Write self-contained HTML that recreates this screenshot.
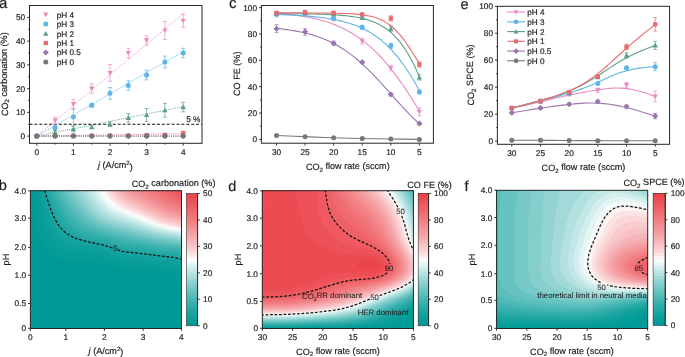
<!DOCTYPE html>
<html><head><meta charset="utf-8"><style>
html,body{margin:0;padding:0;background:#fff;}
svg{display:block;will-change:transform;}
text{text-rendering:geometricPrecision;font-family:"Liberation Sans", sans-serif;fill:#1e1e1e;stroke:#1e1e1e;stroke-width:0.18px;}
text[font-size="7.8"]{stroke-width:0.06px;}
</style></head><body>
<svg width="685" height="357" viewBox="0 0 685 357">
<line x1="36.8" y1="136.1" x2="185.03" y2="12.07" stroke="#ea8cbf" stroke-width="0.9" stroke-dasharray="1.1 1.1"/>
<line x1="36.8" y1="136.1" x2="185.03" y2="50.53" stroke="#5cb5e6" stroke-width="0.9" stroke-dasharray="1.1 1.1"/>
<line x1="36.8" y1="136.1" x2="185.03" y2="106.29" stroke="#5c9e86" stroke-width="0.9" stroke-dasharray="1.1 1.1"/>
<line x1="36.8" y1="136.1" x2="185.03" y2="133.7" stroke="#ea6a6f" stroke-width="0.9" stroke-dasharray="1.1 1.1"/>
<line x1="36.8" y1="136.1" x2="185.03" y2="136.1" stroke="#9a74ad" stroke-width="0.9" stroke-dasharray="1.1 1.1"/>
<line x1="36.8" y1="136.1" x2="185.03" y2="136.1" stroke="#777777" stroke-width="0.9" stroke-dasharray="1.1 1.1"/>
<line x1="29.5" y1="124.23" x2="202" y2="124.23" stroke="#111" stroke-width="1.1" stroke-dasharray="3 1.9"/>
<text x="200.5" y="121.8" font-size="8.3" text-anchor="end" >5 %</text>
<line x1="55.1" y1="124.23" x2="55.1" y2="117.11" stroke="#ea8cbf" stroke-width="0.7" />
<line x1="53.1" y1="124.23" x2="57.1" y2="124.23" stroke="#ea8cbf" stroke-width="0.7" />
<line x1="53.1" y1="117.11" x2="57.1" y2="117.11" stroke="#ea8cbf" stroke-width="0.7" />
<line x1="73.4" y1="108.8" x2="73.4" y2="99.3" stroke="#ea8cbf" stroke-width="0.7" />
<line x1="71.4" y1="108.8" x2="75.4" y2="108.8" stroke="#ea8cbf" stroke-width="0.7" />
<line x1="71.4" y1="99.3" x2="75.4" y2="99.3" stroke="#ea8cbf" stroke-width="0.7" />
<line x1="91.7" y1="93.37" x2="91.7" y2="83.87" stroke="#ea8cbf" stroke-width="0.7" />
<line x1="89.7" y1="93.37" x2="93.7" y2="93.37" stroke="#ea8cbf" stroke-width="0.7" />
<line x1="89.7" y1="83.87" x2="93.7" y2="83.87" stroke="#ea8cbf" stroke-width="0.7" />
<line x1="110" y1="81.26" x2="110" y2="64.64" stroke="#ea8cbf" stroke-width="0.7" />
<line x1="108" y1="81.26" x2="112" y2="81.26" stroke="#ea8cbf" stroke-width="0.7" />
<line x1="108" y1="64.64" x2="112" y2="64.64" stroke="#ea8cbf" stroke-width="0.7" />
<line x1="128.3" y1="57.76" x2="128.3" y2="48.26" stroke="#ea8cbf" stroke-width="0.7" />
<line x1="126.3" y1="57.76" x2="130.3" y2="57.76" stroke="#ea8cbf" stroke-width="0.7" />
<line x1="126.3" y1="48.26" x2="130.3" y2="48.26" stroke="#ea8cbf" stroke-width="0.7" />
<line x1="146.6" y1="45.18" x2="146.6" y2="35.68" stroke="#ea8cbf" stroke-width="0.7" />
<line x1="144.6" y1="45.18" x2="148.6" y2="45.18" stroke="#ea8cbf" stroke-width="0.7" />
<line x1="144.6" y1="35.68" x2="148.6" y2="35.68" stroke="#ea8cbf" stroke-width="0.7" />
<line x1="164.9" y1="39.48" x2="164.9" y2="21.44" stroke="#ea8cbf" stroke-width="0.7" />
<line x1="162.9" y1="39.48" x2="166.9" y2="39.48" stroke="#ea8cbf" stroke-width="0.7" />
<line x1="162.9" y1="21.44" x2="166.9" y2="21.44" stroke="#ea8cbf" stroke-width="0.7" />
<line x1="183.2" y1="27.13" x2="183.2" y2="14.31" stroke="#ea8cbf" stroke-width="0.7" />
<line x1="181.2" y1="27.13" x2="185.2" y2="27.13" stroke="#ea8cbf" stroke-width="0.7" />
<line x1="181.2" y1="14.31" x2="185.2" y2="14.31" stroke="#ea8cbf" stroke-width="0.7" />
<path d="M34.1 134.03H39.5L36.8 138.63Z" fill="#ea8cbf"/>
<path d="M52.4 118.6H57.8L55.1 123.2Z" fill="#ea8cbf"/>
<path d="M70.7 101.98H76.1L73.4 106.58Z" fill="#ea8cbf"/>
<path d="M89 86.55H94.4L91.7 91.15Z" fill="#ea8cbf"/>
<path d="M107.3 70.88H112.7L110 75.48Z" fill="#ea8cbf"/>
<path d="M125.6 50.94H131L128.3 55.54Z" fill="#ea8cbf"/>
<path d="M143.9 38.36H149.3L146.6 42.96Z" fill="#ea8cbf"/>
<path d="M162.2 28.39H167.6L164.9 32.99Z" fill="#ea8cbf"/>
<path d="M180.5 18.65H185.9L183.2 23.25Z" fill="#ea8cbf"/>
<line x1="55.1" y1="130.16" x2="55.1" y2="125.42" stroke="#5cb5e6" stroke-width="0.7" />
<line x1="53.1" y1="130.16" x2="57.1" y2="130.16" stroke="#5cb5e6" stroke-width="0.7" />
<line x1="53.1" y1="125.42" x2="57.1" y2="125.42" stroke="#5cb5e6" stroke-width="0.7" />
<line x1="73.4" y1="125.42" x2="73.4" y2="108.8" stroke="#5cb5e6" stroke-width="0.7" />
<line x1="71.4" y1="125.42" x2="75.4" y2="125.42" stroke="#5cb5e6" stroke-width="0.7" />
<line x1="71.4" y1="108.8" x2="75.4" y2="108.8" stroke="#5cb5e6" stroke-width="0.7" />
<line x1="91.7" y1="107.14" x2="91.7" y2="103.34" stroke="#5cb5e6" stroke-width="0.7" />
<line x1="89.7" y1="107.14" x2="93.7" y2="107.14" stroke="#5cb5e6" stroke-width="0.7" />
<line x1="89.7" y1="103.34" x2="93.7" y2="103.34" stroke="#5cb5e6" stroke-width="0.7" />
<line x1="110" y1="99.3" x2="110" y2="87.43" stroke="#5cb5e6" stroke-width="0.7" />
<line x1="108" y1="99.3" x2="112" y2="99.3" stroke="#5cb5e6" stroke-width="0.7" />
<line x1="108" y1="87.43" x2="112" y2="87.43" stroke="#5cb5e6" stroke-width="0.7" />
<line x1="128.3" y1="90.28" x2="128.3" y2="80.79" stroke="#5cb5e6" stroke-width="0.7" />
<line x1="126.3" y1="90.28" x2="130.3" y2="90.28" stroke="#5cb5e6" stroke-width="0.7" />
<line x1="126.3" y1="80.79" x2="130.3" y2="80.79" stroke="#5cb5e6" stroke-width="0.7" />
<line x1="146.6" y1="79.84" x2="146.6" y2="70.34" stroke="#5cb5e6" stroke-width="0.7" />
<line x1="144.6" y1="79.84" x2="148.6" y2="79.84" stroke="#5cb5e6" stroke-width="0.7" />
<line x1="144.6" y1="70.34" x2="148.6" y2="70.34" stroke="#5cb5e6" stroke-width="0.7" />
<line x1="164.9" y1="67.97" x2="164.9" y2="56.1" stroke="#5cb5e6" stroke-width="0.7" />
<line x1="162.9" y1="67.97" x2="166.9" y2="67.97" stroke="#5cb5e6" stroke-width="0.7" />
<line x1="162.9" y1="56.1" x2="166.9" y2="56.1" stroke="#5cb5e6" stroke-width="0.7" />
<line x1="183.2" y1="57.76" x2="183.2" y2="48.26" stroke="#5cb5e6" stroke-width="0.7" />
<line x1="181.2" y1="57.76" x2="185.2" y2="57.76" stroke="#5cb5e6" stroke-width="0.7" />
<line x1="181.2" y1="48.26" x2="185.2" y2="48.26" stroke="#5cb5e6" stroke-width="0.7" />
<circle cx="36.8" cy="136.1" r="2.5" fill="#5cb5e6"/>
<circle cx="55.1" cy="127.79" r="2.5" fill="#5cb5e6"/>
<circle cx="73.4" cy="117.11" r="2.5" fill="#5cb5e6"/>
<circle cx="91.7" cy="105.24" r="2.5" fill="#5cb5e6"/>
<circle cx="110" cy="93.37" r="2.5" fill="#5cb5e6"/>
<circle cx="128.3" cy="85.53" r="2.5" fill="#5cb5e6"/>
<circle cx="146.6" cy="75.09" r="2.5" fill="#5cb5e6"/>
<circle cx="164.9" cy="62.03" r="2.5" fill="#5cb5e6"/>
<circle cx="183.2" cy="53.01" r="2.5" fill="#5cb5e6"/>
<line x1="55.1" y1="134.91" x2="55.1" y2="130.16" stroke="#5c9e86" stroke-width="0.7" />
<line x1="53.1" y1="134.91" x2="57.1" y2="134.91" stroke="#5c9e86" stroke-width="0.7" />
<line x1="53.1" y1="130.16" x2="57.1" y2="130.16" stroke="#5c9e86" stroke-width="0.7" />
<line x1="73.4" y1="131.83" x2="73.4" y2="126.13" stroke="#5c9e86" stroke-width="0.7" />
<line x1="71.4" y1="131.83" x2="75.4" y2="131.83" stroke="#5c9e86" stroke-width="0.7" />
<line x1="71.4" y1="126.13" x2="75.4" y2="126.13" stroke="#5c9e86" stroke-width="0.7" />
<line x1="91.7" y1="128.5" x2="91.7" y2="125.65" stroke="#5c9e86" stroke-width="0.7" />
<line x1="89.7" y1="128.5" x2="93.7" y2="128.5" stroke="#5c9e86" stroke-width="0.7" />
<line x1="89.7" y1="125.65" x2="93.7" y2="125.65" stroke="#5c9e86" stroke-width="0.7" />
<line x1="110" y1="126.6" x2="110" y2="121.86" stroke="#5c9e86" stroke-width="0.7" />
<line x1="108" y1="126.6" x2="112" y2="126.6" stroke="#5c9e86" stroke-width="0.7" />
<line x1="108" y1="121.86" x2="112" y2="121.86" stroke="#5c9e86" stroke-width="0.7" />
<line x1="128.3" y1="122.09" x2="128.3" y2="113.55" stroke="#5c9e86" stroke-width="0.7" />
<line x1="126.3" y1="122.09" x2="130.3" y2="122.09" stroke="#5c9e86" stroke-width="0.7" />
<line x1="126.3" y1="113.55" x2="130.3" y2="113.55" stroke="#5c9e86" stroke-width="0.7" />
<line x1="146.6" y1="121.38" x2="146.6" y2="108.56" stroke="#5c9e86" stroke-width="0.7" />
<line x1="144.6" y1="121.38" x2="148.6" y2="121.38" stroke="#5c9e86" stroke-width="0.7" />
<line x1="144.6" y1="108.56" x2="148.6" y2="108.56" stroke="#5c9e86" stroke-width="0.7" />
<line x1="164.9" y1="117.11" x2="164.9" y2="103.34" stroke="#5c9e86" stroke-width="0.7" />
<line x1="162.9" y1="117.11" x2="166.9" y2="117.11" stroke="#5c9e86" stroke-width="0.7" />
<line x1="162.9" y1="103.34" x2="166.9" y2="103.34" stroke="#5c9e86" stroke-width="0.7" />
<line x1="183.2" y1="111.89" x2="183.2" y2="102.39" stroke="#5c9e86" stroke-width="0.7" />
<line x1="181.2" y1="111.89" x2="185.2" y2="111.89" stroke="#5c9e86" stroke-width="0.7" />
<line x1="181.2" y1="102.39" x2="185.2" y2="102.39" stroke="#5c9e86" stroke-width="0.7" />
<path d="M34.1 138.17H39.5L36.8 133.57Z" fill="#5c9e86"/>
<path d="M52.4 134.61H57.8L55.1 130.01Z" fill="#5c9e86"/>
<path d="M70.7 131.05H76.1L73.4 126.45Z" fill="#5c9e86"/>
<path d="M89 129.15H94.4L91.7 124.55Z" fill="#5c9e86"/>
<path d="M107.3 126.3H112.7L110 121.7Z" fill="#5c9e86"/>
<path d="M125.6 119.89H131L128.3 115.29Z" fill="#5c9e86"/>
<path d="M143.9 117.04H149.3L146.6 112.44Z" fill="#5c9e86"/>
<path d="M162.2 112.29H167.6L164.9 107.69Z" fill="#5c9e86"/>
<path d="M180.5 109.21H185.9L183.2 104.61Z" fill="#5c9e86"/>
<rect x="34.65" y="133.95" width="4.3" height="4.3" fill="#ea6a6f"/>
<rect x="52.95" y="133.83" width="4.3" height="4.3" fill="#ea6a6f"/>
<rect x="71.25" y="133.71" width="4.3" height="4.3" fill="#ea6a6f"/>
<rect x="89.55" y="133.71" width="4.3" height="4.3" fill="#ea6a6f"/>
<rect x="107.85" y="133.71" width="4.3" height="4.3" fill="#ea6a6f"/>
<rect x="126.15" y="133.48" width="4.3" height="4.3" fill="#ea6a6f"/>
<rect x="144.45" y="133" width="4.3" height="4.3" fill="#ea6a6f"/>
<rect x="162.75" y="132.76" width="4.3" height="4.3" fill="#ea6a6f"/>
<rect x="181.05" y="130.86" width="4.3" height="4.3" fill="#ea6a6f"/>
<path d="M36.8 133.1L39.8 136.1L36.8 139.1L33.8 136.1Z" fill="#9a74ad"/>
<path d="M55.1 133.1L58.1 136.1L55.1 139.1L52.1 136.1Z" fill="#9a74ad"/>
<path d="M73.4 133.1L76.4 136.1L73.4 139.1L70.4 136.1Z" fill="#9a74ad"/>
<path d="M91.7 133.1L94.7 136.1L91.7 139.1L88.7 136.1Z" fill="#9a74ad"/>
<path d="M110 133.1L113 136.1L110 139.1L107 136.1Z" fill="#9a74ad"/>
<path d="M128.3 133.1L131.3 136.1L128.3 139.1L125.3 136.1Z" fill="#9a74ad"/>
<path d="M146.6 133.1L149.6 136.1L146.6 139.1L143.6 136.1Z" fill="#9a74ad"/>
<path d="M164.9 133.1L167.9 136.1L164.9 139.1L161.9 136.1Z" fill="#9a74ad"/>
<path d="M183.2 133.1L186.2 136.1L183.2 139.1L180.2 136.1Z" fill="#9a74ad"/>
<circle cx="36.8" cy="136.1" r="2.5" fill="#777777"/>
<circle cx="55.1" cy="136.1" r="2.5" fill="#777777"/>
<circle cx="73.4" cy="136.1" r="2.5" fill="#777777"/>
<circle cx="91.7" cy="136.1" r="2.5" fill="#777777"/>
<circle cx="110" cy="136.1" r="2.5" fill="#777777"/>
<circle cx="128.3" cy="136.1" r="2.5" fill="#777777"/>
<circle cx="146.6" cy="136.1" r="2.5" fill="#777777"/>
<circle cx="164.9" cy="136.1" r="2.5" fill="#777777"/>
<circle cx="183.2" cy="136.1" r="2.5" fill="#777777"/>
<path d="M43.1 12.53H48.5L45.8 17.13Z" fill="#ea8cbf"/>
<text x="56.8" y="17.55" font-size="8.2" text-anchor="start" >pH 4</text>
<circle cx="45.8" cy="24.08" r="2.5" fill="#5cb5e6"/>
<text x="56.8" y="27.03" font-size="8.2" text-anchor="start" >pH 3</text>
<path d="M43.1 35.63H48.5L45.8 31.03Z" fill="#5c9e86"/>
<text x="56.8" y="36.51" font-size="8.2" text-anchor="start" >pH 2</text>
<rect x="43.65" y="40.89" width="4.3" height="4.3" fill="#ea6a6f"/>
<text x="56.8" y="45.99" font-size="8.2" text-anchor="start" >pH 1</text>
<path d="M45.8 49.52L48.8 52.52L45.8 55.52L42.8 52.52Z" fill="#9a74ad"/>
<text x="56.8" y="55.47" font-size="8.2" text-anchor="start" >pH 0.5</text>
<circle cx="45.8" cy="62" r="2.5" fill="#777777"/>
<text x="56.8" y="64.95" font-size="8.2" text-anchor="start" >pH 0</text>
<rect x="29.5" y="5.5" width="172.5" height="137.8" fill="none" stroke="#262626" stroke-width="1.0"/>
<line x1="27.1" y1="136.1" x2="29.5" y2="136.1" stroke="#262626" stroke-width="0.9" />
<text x="25.2" y="139.05" font-size="8.3" text-anchor="end" >0</text>
<line x1="27.1" y1="112.36" x2="29.5" y2="112.36" stroke="#262626" stroke-width="0.9" />
<text x="25.2" y="115.31" font-size="8.3" text-anchor="end" >10</text>
<line x1="27.1" y1="88.62" x2="29.5" y2="88.62" stroke="#262626" stroke-width="0.9" />
<text x="25.2" y="91.57" font-size="8.3" text-anchor="end" >20</text>
<line x1="27.1" y1="64.88" x2="29.5" y2="64.88" stroke="#262626" stroke-width="0.9" />
<text x="25.2" y="67.83" font-size="8.3" text-anchor="end" >30</text>
<line x1="27.1" y1="41.14" x2="29.5" y2="41.14" stroke="#262626" stroke-width="0.9" />
<text x="25.2" y="44.09" font-size="8.3" text-anchor="end" >40</text>
<line x1="27.1" y1="17.4" x2="29.5" y2="17.4" stroke="#262626" stroke-width="0.9" />
<text x="25.2" y="20.35" font-size="8.3" text-anchor="end" >50</text>
<line x1="28.1" y1="124.23" x2="29.5" y2="124.23" stroke="#262626" stroke-width="0.8" />
<line x1="28.1" y1="100.49" x2="29.5" y2="100.49" stroke="#262626" stroke-width="0.8" />
<line x1="28.1" y1="76.75" x2="29.5" y2="76.75" stroke="#262626" stroke-width="0.8" />
<line x1="28.1" y1="53.01" x2="29.5" y2="53.01" stroke="#262626" stroke-width="0.8" />
<line x1="28.1" y1="29.27" x2="29.5" y2="29.27" stroke="#262626" stroke-width="0.8" />
<line x1="36.8" y1="143.3" x2="36.8" y2="145.7" stroke="#262626" stroke-width="0.9" />
<text x="36.8" y="154.7" font-size="8.3" text-anchor="middle" >0</text>
<line x1="73.4" y1="143.3" x2="73.4" y2="145.7" stroke="#262626" stroke-width="0.9" />
<text x="73.4" y="154.7" font-size="8.3" text-anchor="middle" >1</text>
<line x1="110" y1="143.3" x2="110" y2="145.7" stroke="#262626" stroke-width="0.9" />
<text x="110" y="154.7" font-size="8.3" text-anchor="middle" >2</text>
<line x1="146.6" y1="143.3" x2="146.6" y2="145.7" stroke="#262626" stroke-width="0.9" />
<text x="146.6" y="154.7" font-size="8.3" text-anchor="middle" >3</text>
<line x1="183.2" y1="143.3" x2="183.2" y2="145.7" stroke="#262626" stroke-width="0.9" />
<text x="183.2" y="154.7" font-size="8.3" text-anchor="middle" >4</text>
<line x1="55.1" y1="143.3" x2="55.1" y2="144.7" stroke="#262626" stroke-width="0.8" />
<line x1="91.7" y1="143.3" x2="91.7" y2="144.7" stroke="#262626" stroke-width="0.8" />
<line x1="128.3" y1="143.3" x2="128.3" y2="144.7" stroke="#262626" stroke-width="0.8" />
<line x1="164.9" y1="143.3" x2="164.9" y2="144.7" stroke="#262626" stroke-width="0.8" />
<text x="0" y="0" font-size="9.1" text-anchor="middle" transform="translate(7.6 74.2) rotate(-90)">CO<tspan font-size="0.68em" dy="0.3em">2</tspan><tspan dy="-0.3em"> carbonation (%)</tspan></text>
<text x="115.4" y="168.2" font-size="9.1" text-anchor="middle"><tspan font-style="italic">j</tspan> (A/cm<tspan font-size="0.68em" dy="-0.45em">2</tspan><tspan dy="0.45em">)</tspan></text>
<path d="M276.5 13.1C276.98 13.14 278.41 13.26 279.36 13.34C280.31 13.42 281.26 13.51 282.22 13.6C283.17 13.69 284.12 13.79 285.07 13.89C286.03 13.99 286.98 14.09 287.93 14.2C288.88 14.3 289.84 14.41 290.79 14.53C291.74 14.64 292.7 14.76 293.65 14.89C294.6 15.01 295.55 15.14 296.51 15.28C297.46 15.42 298.41 15.56 299.36 15.7C300.32 15.85 301.27 16 302.22 16.16C303.17 16.32 304.13 16.48 305.08 16.65C306.03 16.83 306.99 17 307.94 17.19C308.89 17.37 309.84 17.57 310.8 17.77C311.75 17.97 312.7 18.17 313.65 18.39C314.61 18.61 315.56 18.83 316.51 19.06C317.46 19.3 318.42 19.54 319.37 19.79C320.32 20.04 321.28 20.3 322.23 20.58C323.18 20.85 324.13 21.13 325.09 21.42C326.04 21.71 326.99 22.02 327.94 22.33C328.9 22.65 329.85 22.97 330.8 23.31C331.75 23.65 332.71 24 333.66 24.37C334.61 24.73 335.57 25.11 336.52 25.5C337.47 25.89 338.42 26.3 339.38 26.72C340.33 27.14 341.28 27.57 342.23 28.03C343.19 28.48 344.14 28.94 345.09 29.43C346.04 29.91 347 30.41 347.95 30.93C348.9 31.45 349.86 31.98 350.81 32.54C351.76 33.09 352.71 33.66 353.67 34.25C354.62 34.84 355.57 35.45 356.52 36.09C357.48 36.72 358.43 37.37 359.38 38.04C360.33 38.71 361.29 39.41 362.24 40.12C363.19 40.84 364.15 41.57 365.1 42.33C366.05 43.09 367 43.87 367.96 44.68C368.91 45.48 369.86 46.31 370.81 47.17C371.77 48.02 372.72 48.9 373.67 49.8C374.62 50.7 375.58 51.62 376.53 52.57C377.48 53.52 378.44 54.5 379.39 55.5C380.34 56.5 381.29 57.52 382.25 58.57C383.2 59.62 384.15 60.7 385.1 61.8C386.06 62.9 387.01 64.03 387.96 65.18C388.91 66.33 389.87 67.5 390.82 68.7C391.77 69.9 392.73 71.13 393.68 72.38C394.63 73.62 395.58 74.9 396.54 76.19C397.49 77.48 398.44 78.8 399.39 80.14C400.35 81.48 401.3 82.84 402.25 84.22C403.2 85.6 404.16 87.01 405.11 88.43C406.06 89.85 407.02 91.29 407.97 92.75C408.92 94.2 409.87 95.68 410.83 97.17C411.78 98.65 412.73 100.16 413.68 101.68C414.64 103.19 415.59 104.72 416.54 106.26C417.49 107.8 418.92 110.14 419.4 110.91" fill="none" stroke="#ea8cbf" stroke-width="1.1"/>
<path d="M276.5 14.63C276.98 14.65 278.41 14.69 279.36 14.71C280.31 14.74 281.26 14.77 282.22 14.8C283.17 14.84 284.12 14.87 285.07 14.9C286.03 14.94 286.98 14.98 287.93 15.01C288.88 15.05 289.84 15.09 290.79 15.14C291.74 15.18 292.7 15.22 293.65 15.27C294.6 15.32 295.55 15.36 296.51 15.42C297.46 15.47 298.41 15.52 299.36 15.58C300.32 15.64 301.27 15.69 302.22 15.76C303.17 15.82 304.13 15.88 305.08 15.95C306.03 16.02 306.99 16.1 307.94 16.17C308.89 16.25 309.84 16.33 310.8 16.41C311.75 16.49 312.7 16.58 313.65 16.67C314.61 16.77 315.56 16.86 316.51 16.96C317.46 17.06 318.42 17.17 319.37 17.28C320.32 17.39 321.28 17.51 322.23 17.63C323.18 17.76 324.13 17.89 325.09 18.02C326.04 18.16 326.99 18.3 327.94 18.45C328.9 18.59 329.85 18.75 330.8 18.91C331.75 19.08 332.71 19.25 333.66 19.43C334.61 19.61 335.57 19.79 336.52 19.99C337.47 20.19 338.42 20.4 339.38 20.61C340.33 20.83 341.28 21.06 342.23 21.29C343.19 21.53 344.14 21.78 345.09 22.04C346.04 22.3 347 22.57 347.95 22.86C348.9 23.15 349.86 23.44 350.81 23.76C351.76 24.07 352.71 24.4 353.67 24.74C354.62 25.08 355.57 25.44 356.52 25.82C357.48 26.19 358.43 26.58 359.38 26.99C360.33 27.4 361.29 27.83 362.24 28.28C363.19 28.73 364.15 29.19 365.1 29.68C366.05 30.17 367 30.68 367.96 31.21C368.91 31.74 369.86 32.3 370.81 32.88C371.77 33.46 372.72 34.06 373.67 34.69C374.62 35.32 375.58 35.97 376.53 36.65C377.48 37.34 378.44 38.05 379.39 38.79C380.34 39.53 381.29 40.3 382.25 41.1C383.2 41.9 384.15 42.73 385.1 43.59C386.06 44.46 387.01 45.35 387.96 46.28C388.91 47.22 389.87 48.18 390.82 49.18C391.77 50.18 392.73 51.22 393.68 52.29C394.63 53.37 395.58 54.48 396.54 55.63C397.49 56.78 398.44 57.96 399.39 59.19C400.35 60.42 401.3 61.68 402.25 62.99C403.2 64.29 404.16 65.64 405.11 67.03C406.06 68.41 407.02 69.84 407.97 71.3C408.92 72.77 409.87 74.27 410.83 75.82C411.78 77.36 412.73 78.95 413.68 80.57C414.64 82.19 415.59 83.86 416.54 85.55C417.49 87.25 418.92 89.89 419.4 90.76" fill="none" stroke="#5cb5e6" stroke-width="1.1"/>
<path d="M276.5 13.64C276.98 13.64 278.41 13.65 279.36 13.65C280.31 13.65 281.26 13.66 282.22 13.66C283.17 13.67 284.12 13.67 285.07 13.68C286.03 13.68 286.98 13.69 287.93 13.69C288.88 13.7 289.84 13.7 290.79 13.71C291.74 13.72 292.7 13.72 293.65 13.73C294.6 13.74 295.55 13.75 296.51 13.76C297.46 13.77 298.41 13.78 299.36 13.79C300.32 13.8 301.27 13.81 302.22 13.82C303.17 13.83 304.13 13.84 305.08 13.86C306.03 13.87 306.99 13.89 307.94 13.9C308.89 13.92 309.84 13.94 310.8 13.95C311.75 13.97 312.7 13.99 313.65 14.01C314.61 14.03 315.56 14.06 316.51 14.08C317.46 14.1 318.42 14.13 319.37 14.16C320.32 14.18 321.28 14.21 322.23 14.25C323.18 14.28 324.13 14.31 325.09 14.35C326.04 14.39 326.99 14.43 327.94 14.47C328.9 14.51 329.85 14.55 330.8 14.6C331.75 14.65 332.71 14.7 333.66 14.76C334.61 14.82 335.57 14.88 336.52 14.94C337.47 15.01 338.42 15.07 339.38 15.15C340.33 15.22 341.28 15.3 342.23 15.39C343.19 15.47 344.14 15.56 345.09 15.66C346.04 15.76 347 15.87 347.95 15.98C348.9 16.09 349.86 16.21 350.81 16.34C351.76 16.47 352.71 16.61 353.67 16.76C354.62 16.91 355.57 17.07 356.52 17.24C357.48 17.41 358.43 17.59 359.38 17.79C360.33 17.98 361.29 18.19 362.24 18.42C363.19 18.64 364.15 18.88 365.1 19.14C366.05 19.39 367 19.67 367.96 19.96C368.91 20.26 369.86 20.57 370.81 20.91C371.77 21.25 372.72 21.6 373.67 21.99C374.62 22.37 375.58 22.78 376.53 23.22C377.48 23.66 378.44 24.13 379.39 24.63C380.34 25.13 381.29 25.66 382.25 26.23C383.2 26.8 384.15 27.4 385.1 28.05C386.06 28.69 387.01 29.38 387.96 30.11C388.91 30.84 389.87 31.61 390.82 32.44C391.77 33.27 392.73 34.14 393.68 35.07C394.63 36.01 395.58 36.99 396.54 38.04C397.49 39.08 398.44 40.18 399.39 41.36C400.35 42.53 401.3 43.76 402.25 45.07C403.2 46.38 404.16 47.75 405.11 49.2C406.06 50.65 407.02 52.17 407.97 53.77C408.92 55.38 409.87 57.06 410.83 58.82C411.78 60.58 412.73 62.42 413.68 64.35C414.64 66.27 415.59 68.28 416.54 70.37C417.49 72.46 418.92 75.8 419.4 76.89" fill="none" stroke="#5c9e86" stroke-width="1.1"/>
<path d="M276.5 12.89C276.98 12.89 278.41 12.89 279.36 12.89C280.31 12.89 281.26 12.89 282.22 12.9C283.17 12.9 284.12 12.9 285.07 12.9C286.03 12.9 286.98 12.9 287.93 12.9C288.88 12.9 289.84 12.9 290.79 12.9C291.74 12.9 292.7 12.9 293.65 12.9C294.6 12.9 295.55 12.9 296.51 12.91C297.46 12.91 298.41 12.91 299.36 12.91C300.32 12.91 301.27 12.91 302.22 12.91C303.17 12.92 304.13 12.92 305.08 12.92C306.03 12.92 306.99 12.93 307.94 12.93C308.89 12.93 309.84 12.93 310.8 12.94C311.75 12.94 312.7 12.94 313.65 12.95C314.61 12.95 315.56 12.96 316.51 12.96C317.46 12.97 318.42 12.97 319.37 12.98C320.32 12.98 321.28 12.99 322.23 13C323.18 13 324.13 13.01 325.09 13.02C326.04 13.03 326.99 13.04 327.94 13.05C328.9 13.06 329.85 13.08 330.8 13.09C331.75 13.1 332.71 13.12 333.66 13.13C334.61 13.15 335.57 13.17 336.52 13.19C337.47 13.21 338.42 13.23 339.38 13.26C340.33 13.28 341.28 13.31 342.23 13.34C343.19 13.37 344.14 13.41 345.09 13.45C346.04 13.48 347 13.53 347.95 13.57C348.9 13.62 349.86 13.67 350.81 13.73C351.76 13.78 352.71 13.85 353.67 13.92C354.62 13.99 355.57 14.06 356.52 14.15C357.48 14.23 358.43 14.33 359.38 14.43C360.33 14.53 361.29 14.65 362.24 14.77C363.19 14.9 364.15 15.04 365.1 15.19C366.05 15.35 367 15.52 367.96 15.7C368.91 15.89 369.86 16.1 370.81 16.32C371.77 16.55 372.72 16.8 373.67 17.07C374.62 17.35 375.58 17.64 376.53 17.97C377.48 18.3 378.44 18.66 379.39 19.05C380.34 19.45 381.29 19.87 382.25 20.34C383.2 20.81 384.15 21.32 385.1 21.87C386.06 22.43 387.01 23.03 387.96 23.68C388.91 24.33 389.87 25.03 390.82 25.78C391.77 26.54 392.73 27.35 393.68 28.22C394.63 29.09 395.58 30.02 396.54 31.01C397.49 32 398.44 33.05 399.39 34.15C400.35 35.26 401.3 36.43 402.25 37.65C403.2 38.88 404.16 40.16 405.11 41.49C406.06 42.81 407.02 44.19 407.97 45.61C408.92 47.02 409.87 48.48 410.83 49.95C411.78 51.43 412.73 52.94 413.68 54.45C414.64 55.95 415.59 57.49 416.54 59C417.49 60.51 418.92 62.75 419.4 63.51" fill="none" stroke="#ea6a6f" stroke-width="1.1"/>
<path d="M276.5 28.35C276.98 28.4 278.41 28.55 279.36 28.65C280.31 28.76 281.26 28.87 282.22 28.98C283.17 29.1 284.12 29.22 285.07 29.35C286.03 29.47 286.98 29.61 287.93 29.74C288.88 29.88 289.84 30.03 290.79 30.18C291.74 30.33 292.7 30.48 293.65 30.65C294.6 30.81 295.55 30.98 296.51 31.16C297.46 31.34 298.41 31.53 299.36 31.72C300.32 31.92 301.27 32.12 302.22 32.33C303.17 32.55 304.13 32.77 305.08 33C306.03 33.23 306.99 33.47 307.94 33.72C308.89 33.97 309.84 34.23 310.8 34.5C311.75 34.77 312.7 35.06 313.65 35.35C314.61 35.65 315.56 35.95 316.51 36.27C317.46 36.59 318.42 36.92 319.37 37.27C320.32 37.61 321.28 37.97 322.23 38.34C323.18 38.71 324.13 39.1 325.09 39.5C326.04 39.9 326.99 40.32 327.94 40.75C328.9 41.18 329.85 41.63 330.8 42.09C331.75 42.55 332.71 43.03 333.66 43.53C334.61 44.03 335.57 44.54 336.52 45.07C337.47 45.6 338.42 46.15 339.38 46.72C340.33 47.29 341.28 47.87 342.23 48.48C343.19 49.08 344.14 49.71 345.09 50.35C346.04 50.99 347 51.65 347.95 52.33C348.9 53.01 349.86 53.71 350.81 54.43C351.76 55.15 352.71 55.89 353.67 56.64C354.62 57.4 355.57 58.18 356.52 58.97C357.48 59.77 358.43 60.58 359.38 61.42C360.33 62.25 361.29 63.1 362.24 63.97C363.19 64.84 364.15 65.73 365.1 66.63C366.05 67.53 367 68.45 367.96 69.39C368.91 70.32 369.86 71.27 370.81 72.24C371.77 73.2 372.72 74.18 373.67 75.17C374.62 76.16 375.58 77.17 376.53 78.18C377.48 79.19 378.44 80.22 379.39 81.25C380.34 82.29 381.29 83.33 382.25 84.38C383.2 85.43 384.15 86.49 385.1 87.54C386.06 88.6 387.01 89.67 387.96 90.73C388.91 91.8 389.87 92.87 390.82 93.94C391.77 95 392.73 96.07 393.68 97.14C394.63 98.2 395.58 99.27 396.54 100.32C397.49 101.38 398.44 102.43 399.39 103.48C400.35 104.52 401.3 105.56 402.25 106.59C403.2 107.62 404.16 108.64 405.11 109.65C406.06 110.65 407.02 111.65 407.97 112.63C408.92 113.62 409.87 114.59 410.83 115.55C411.78 116.5 412.73 117.45 413.68 118.37C414.64 119.3 415.59 120.21 416.54 121.1C417.49 121.99 418.92 123.29 419.4 123.73" fill="none" stroke="#9a74ad" stroke-width="1.1"/>
<path d="M276.5 135.45C281.26 135.64 295.55 136.24 305.08 136.63C314.61 137.03 324.13 137.51 333.66 137.82C343.19 138.13 352.71 138.28 362.24 138.48C371.77 138.68 381.29 138.85 390.82 139C400.35 139.16 414.64 139.33 419.4 139.4" fill="none" stroke="#777777" stroke-width="1.1"/>
<line x1="276.5" y1="15.51" x2="276.5" y2="12.87" stroke="#ea8cbf" stroke-width="0.7" />
<line x1="274.5" y1="15.51" x2="278.5" y2="15.51" stroke="#ea8cbf" stroke-width="0.7" />
<line x1="274.5" y1="12.87" x2="278.5" y2="12.87" stroke="#ea8cbf" stroke-width="0.7" />
<path d="M273.8 12.12H279.2L276.5 16.72Z" fill="#ea8cbf"/>
<line x1="305.08" y1="15.51" x2="305.08" y2="12.87" stroke="#ea8cbf" stroke-width="0.7" />
<line x1="303.08" y1="15.51" x2="307.08" y2="15.51" stroke="#ea8cbf" stroke-width="0.7" />
<line x1="303.08" y1="12.87" x2="307.08" y2="12.87" stroke="#ea8cbf" stroke-width="0.7" />
<path d="M302.38 12.12H307.78L305.08 16.72Z" fill="#ea8cbf"/>
<line x1="333.66" y1="20.78" x2="333.66" y2="18.14" stroke="#ea8cbf" stroke-width="0.7" />
<line x1="331.66" y1="20.78" x2="335.66" y2="20.78" stroke="#ea8cbf" stroke-width="0.7" />
<line x1="331.66" y1="18.14" x2="335.66" y2="18.14" stroke="#ea8cbf" stroke-width="0.7" />
<path d="M330.96 17.39H336.36L333.66 21.99Z" fill="#ea8cbf"/>
<line x1="362.24" y1="43.84" x2="362.24" y2="38.57" stroke="#ea8cbf" stroke-width="0.7" />
<line x1="360.24" y1="43.84" x2="364.24" y2="43.84" stroke="#ea8cbf" stroke-width="0.7" />
<line x1="360.24" y1="38.57" x2="364.24" y2="38.57" stroke="#ea8cbf" stroke-width="0.7" />
<path d="M359.54 39.14H364.94L362.24 43.74Z" fill="#ea8cbf"/>
<line x1="390.82" y1="70.86" x2="390.82" y2="65.59" stroke="#ea8cbf" stroke-width="0.7" />
<line x1="388.82" y1="70.86" x2="392.82" y2="70.86" stroke="#ea8cbf" stroke-width="0.7" />
<line x1="388.82" y1="65.59" x2="392.82" y2="65.59" stroke="#ea8cbf" stroke-width="0.7" />
<path d="M388.12 66.16H393.52L390.82 70.76Z" fill="#ea8cbf"/>
<line x1="419.4" y1="115.68" x2="419.4" y2="107.77" stroke="#ea8cbf" stroke-width="0.7" />
<line x1="417.4" y1="115.68" x2="421.4" y2="115.68" stroke="#ea8cbf" stroke-width="0.7" />
<line x1="417.4" y1="107.77" x2="421.4" y2="107.77" stroke="#ea8cbf" stroke-width="0.7" />
<path d="M416.7 109.65H422.1L419.4 114.25Z" fill="#ea8cbf"/>
<line x1="276.5" y1="16.83" x2="276.5" y2="11.55" stroke="#5cb5e6" stroke-width="0.7" />
<line x1="274.5" y1="16.83" x2="278.5" y2="16.83" stroke="#5cb5e6" stroke-width="0.7" />
<line x1="274.5" y1="11.55" x2="278.5" y2="11.55" stroke="#5cb5e6" stroke-width="0.7" />
<circle cx="276.5" cy="14.19" r="2.5" fill="#5cb5e6"/>
<line x1="305.08" y1="14.85" x2="305.08" y2="12.21" stroke="#5cb5e6" stroke-width="0.7" />
<line x1="303.08" y1="14.85" x2="307.08" y2="14.85" stroke="#5cb5e6" stroke-width="0.7" />
<line x1="303.08" y1="12.21" x2="307.08" y2="12.21" stroke="#5cb5e6" stroke-width="0.7" />
<circle cx="305.08" cy="13.53" r="2.5" fill="#5cb5e6"/>
<line x1="333.66" y1="19.46" x2="333.66" y2="16.83" stroke="#5cb5e6" stroke-width="0.7" />
<line x1="331.66" y1="19.46" x2="335.66" y2="19.46" stroke="#5cb5e6" stroke-width="0.7" />
<line x1="331.66" y1="16.83" x2="335.66" y2="16.83" stroke="#5cb5e6" stroke-width="0.7" />
<circle cx="333.66" cy="18.14" r="2.5" fill="#5cb5e6"/>
<line x1="362.24" y1="29.35" x2="362.24" y2="25.39" stroke="#5cb5e6" stroke-width="0.7" />
<line x1="360.24" y1="29.35" x2="364.24" y2="29.35" stroke="#5cb5e6" stroke-width="0.7" />
<line x1="360.24" y1="25.39" x2="364.24" y2="25.39" stroke="#5cb5e6" stroke-width="0.7" />
<circle cx="362.24" cy="27.37" r="2.5" fill="#5cb5e6"/>
<line x1="390.82" y1="48.46" x2="390.82" y2="43.19" stroke="#5cb5e6" stroke-width="0.7" />
<line x1="388.82" y1="48.46" x2="392.82" y2="48.46" stroke="#5cb5e6" stroke-width="0.7" />
<line x1="388.82" y1="43.19" x2="392.82" y2="43.19" stroke="#5cb5e6" stroke-width="0.7" />
<circle cx="390.82" cy="45.82" r="2.5" fill="#5cb5e6"/>
<line x1="419.4" y1="93.93" x2="419.4" y2="89.97" stroke="#5cb5e6" stroke-width="0.7" />
<line x1="417.4" y1="93.93" x2="421.4" y2="93.93" stroke="#5cb5e6" stroke-width="0.7" />
<line x1="417.4" y1="89.97" x2="421.4" y2="89.97" stroke="#5cb5e6" stroke-width="0.7" />
<circle cx="419.4" cy="91.95" r="2.5" fill="#5cb5e6"/>
<line x1="276.5" y1="14.85" x2="276.5" y2="12.21" stroke="#5c9e86" stroke-width="0.7" />
<line x1="274.5" y1="14.85" x2="278.5" y2="14.85" stroke="#5c9e86" stroke-width="0.7" />
<line x1="274.5" y1="12.21" x2="278.5" y2="12.21" stroke="#5c9e86" stroke-width="0.7" />
<path d="M273.8 15.6H279.2L276.5 11Z" fill="#5c9e86"/>
<line x1="305.08" y1="14.19" x2="305.08" y2="11.55" stroke="#5c9e86" stroke-width="0.7" />
<line x1="303.08" y1="14.19" x2="307.08" y2="14.19" stroke="#5c9e86" stroke-width="0.7" />
<line x1="303.08" y1="11.55" x2="307.08" y2="11.55" stroke="#5c9e86" stroke-width="0.7" />
<path d="M302.38 14.94H307.78L305.08 10.34Z" fill="#5c9e86"/>
<line x1="333.66" y1="15.51" x2="333.66" y2="12.87" stroke="#5c9e86" stroke-width="0.7" />
<line x1="331.66" y1="15.51" x2="335.66" y2="15.51" stroke="#5c9e86" stroke-width="0.7" />
<line x1="331.66" y1="12.87" x2="335.66" y2="12.87" stroke="#5c9e86" stroke-width="0.7" />
<path d="M330.96 16.26H336.36L333.66 11.66Z" fill="#5c9e86"/>
<line x1="362.24" y1="19.59" x2="362.24" y2="15.64" stroke="#5c9e86" stroke-width="0.7" />
<line x1="360.24" y1="19.59" x2="364.24" y2="19.59" stroke="#5c9e86" stroke-width="0.7" />
<line x1="360.24" y1="15.64" x2="364.24" y2="15.64" stroke="#5c9e86" stroke-width="0.7" />
<path d="M359.54 19.69H364.94L362.24 15.09Z" fill="#5c9e86"/>
<line x1="390.82" y1="31.32" x2="390.82" y2="26.05" stroke="#5c9e86" stroke-width="0.7" />
<line x1="388.82" y1="31.32" x2="392.82" y2="31.32" stroke="#5c9e86" stroke-width="0.7" />
<line x1="388.82" y1="26.05" x2="392.82" y2="26.05" stroke="#5c9e86" stroke-width="0.7" />
<path d="M388.12 30.76H393.52L390.82 26.16Z" fill="#5c9e86"/>
<line x1="419.4" y1="80.09" x2="419.4" y2="74.82" stroke="#5c9e86" stroke-width="0.7" />
<line x1="417.4" y1="80.09" x2="421.4" y2="80.09" stroke="#5c9e86" stroke-width="0.7" />
<line x1="417.4" y1="74.82" x2="421.4" y2="74.82" stroke="#5c9e86" stroke-width="0.7" />
<path d="M416.7 79.52H422.1L419.4 74.92Z" fill="#5c9e86"/>
<line x1="276.5" y1="14.19" x2="276.5" y2="11.55" stroke="#ea6a6f" stroke-width="0.7" />
<line x1="274.5" y1="14.19" x2="278.5" y2="14.19" stroke="#ea6a6f" stroke-width="0.7" />
<line x1="274.5" y1="11.55" x2="278.5" y2="11.55" stroke="#ea6a6f" stroke-width="0.7" />
<rect x="274.35" y="10.72" width="4.3" height="4.3" fill="#ea6a6f"/>
<line x1="305.08" y1="14.19" x2="305.08" y2="10.24" stroke="#ea6a6f" stroke-width="0.7" />
<line x1="303.08" y1="14.19" x2="307.08" y2="14.19" stroke="#ea6a6f" stroke-width="0.7" />
<line x1="303.08" y1="10.24" x2="307.08" y2="10.24" stroke="#ea6a6f" stroke-width="0.7" />
<rect x="302.93" y="10.06" width="4.3" height="4.3" fill="#ea6a6f"/>
<line x1="333.66" y1="14.19" x2="333.66" y2="11.55" stroke="#ea6a6f" stroke-width="0.7" />
<line x1="331.66" y1="14.19" x2="335.66" y2="14.19" stroke="#ea6a6f" stroke-width="0.7" />
<line x1="331.66" y1="11.55" x2="335.66" y2="11.55" stroke="#ea6a6f" stroke-width="0.7" />
<rect x="331.51" y="10.72" width="4.3" height="4.3" fill="#ea6a6f"/>
<line x1="362.24" y1="16.56" x2="362.24" y2="12.61" stroke="#ea6a6f" stroke-width="0.7" />
<line x1="360.24" y1="16.56" x2="364.24" y2="16.56" stroke="#ea6a6f" stroke-width="0.7" />
<line x1="360.24" y1="12.61" x2="364.24" y2="12.61" stroke="#ea6a6f" stroke-width="0.7" />
<rect x="360.09" y="12.44" width="4.3" height="4.3" fill="#ea6a6f"/>
<line x1="390.82" y1="21.04" x2="390.82" y2="15.77" stroke="#ea6a6f" stroke-width="0.7" />
<line x1="388.82" y1="21.04" x2="392.82" y2="21.04" stroke="#ea6a6f" stroke-width="0.7" />
<line x1="388.82" y1="15.77" x2="392.82" y2="15.77" stroke="#ea6a6f" stroke-width="0.7" />
<rect x="388.67" y="16.26" width="4.3" height="4.3" fill="#ea6a6f"/>
<line x1="419.4" y1="67.17" x2="419.4" y2="61.9" stroke="#ea6a6f" stroke-width="0.7" />
<line x1="417.4" y1="67.17" x2="421.4" y2="67.17" stroke="#ea6a6f" stroke-width="0.7" />
<line x1="417.4" y1="61.9" x2="421.4" y2="61.9" stroke="#ea6a6f" stroke-width="0.7" />
<rect x="417.25" y="62.39" width="4.3" height="4.3" fill="#ea6a6f"/>
<line x1="276.5" y1="32.64" x2="276.5" y2="24.73" stroke="#9a74ad" stroke-width="0.7" />
<line x1="274.5" y1="32.64" x2="278.5" y2="32.64" stroke="#9a74ad" stroke-width="0.7" />
<line x1="274.5" y1="24.73" x2="278.5" y2="24.73" stroke="#9a74ad" stroke-width="0.7" />
<path d="M276.5 25.69L279.5 28.69L276.5 31.69L273.5 28.69Z" fill="#9a74ad"/>
<line x1="305.08" y1="35.15" x2="305.08" y2="28.56" stroke="#9a74ad" stroke-width="0.7" />
<line x1="303.08" y1="35.15" x2="307.08" y2="35.15" stroke="#9a74ad" stroke-width="0.7" />
<line x1="303.08" y1="28.56" x2="307.08" y2="28.56" stroke="#9a74ad" stroke-width="0.7" />
<path d="M305.08 28.85L308.08 31.85L305.08 34.85L302.08 31.85Z" fill="#9a74ad"/>
<line x1="333.66" y1="45.16" x2="333.66" y2="41.21" stroke="#9a74ad" stroke-width="0.7" />
<line x1="331.66" y1="45.16" x2="335.66" y2="45.16" stroke="#9a74ad" stroke-width="0.7" />
<line x1="331.66" y1="41.21" x2="335.66" y2="41.21" stroke="#9a74ad" stroke-width="0.7" />
<path d="M333.66 40.19L336.66 43.19L333.66 46.19L330.66 43.19Z" fill="#9a74ad"/>
<line x1="362.24" y1="63.62" x2="362.24" y2="60.98" stroke="#9a74ad" stroke-width="0.7" />
<line x1="360.24" y1="63.62" x2="364.24" y2="63.62" stroke="#9a74ad" stroke-width="0.7" />
<line x1="360.24" y1="60.98" x2="364.24" y2="60.98" stroke="#9a74ad" stroke-width="0.7" />
<path d="M362.24 59.3L365.24 62.3L362.24 65.3L359.24 62.3Z" fill="#9a74ad"/>
<line x1="390.82" y1="95.91" x2="390.82" y2="93.27" stroke="#9a74ad" stroke-width="0.7" />
<line x1="388.82" y1="95.91" x2="392.82" y2="95.91" stroke="#9a74ad" stroke-width="0.7" />
<line x1="388.82" y1="93.27" x2="392.82" y2="93.27" stroke="#9a74ad" stroke-width="0.7" />
<path d="M390.82 91.59L393.82 94.59L390.82 97.59L387.82 94.59Z" fill="#9a74ad"/>
<line x1="419.4" y1="124.9" x2="419.4" y2="122.27" stroke="#9a74ad" stroke-width="0.7" />
<line x1="417.4" y1="124.9" x2="421.4" y2="124.9" stroke="#9a74ad" stroke-width="0.7" />
<line x1="417.4" y1="122.27" x2="421.4" y2="122.27" stroke="#9a74ad" stroke-width="0.7" />
<path d="M419.4 120.58L422.4 123.58L419.4 126.58L416.4 123.58Z" fill="#9a74ad"/>
<circle cx="276.5" cy="135.45" r="2.5" fill="#777777"/>
<circle cx="305.08" cy="136.63" r="2.5" fill="#777777"/>
<circle cx="333.66" cy="137.82" r="2.5" fill="#777777"/>
<circle cx="362.24" cy="138.48" r="2.5" fill="#777777"/>
<circle cx="390.82" cy="139" r="2.5" fill="#777777"/>
<circle cx="419.4" cy="139.4" r="2.5" fill="#777777"/>
<rect x="261.4" y="5.5" width="172" height="137.7" fill="none" stroke="#262626" stroke-width="1.0"/>
<line x1="259" y1="139.4" x2="261.4" y2="139.4" stroke="#262626" stroke-width="0.9" />
<text x="257.1" y="142.35" font-size="8.3" text-anchor="end" >0</text>
<line x1="259" y1="113.04" x2="261.4" y2="113.04" stroke="#262626" stroke-width="0.9" />
<text x="257.1" y="115.99" font-size="8.3" text-anchor="end" >20</text>
<line x1="259" y1="86.68" x2="261.4" y2="86.68" stroke="#262626" stroke-width="0.9" />
<text x="257.1" y="89.63" font-size="8.3" text-anchor="end" >40</text>
<line x1="259" y1="60.32" x2="261.4" y2="60.32" stroke="#262626" stroke-width="0.9" />
<text x="257.1" y="63.27" font-size="8.3" text-anchor="end" >60</text>
<line x1="259" y1="33.96" x2="261.4" y2="33.96" stroke="#262626" stroke-width="0.9" />
<text x="257.1" y="36.91" font-size="8.3" text-anchor="end" >80</text>
<line x1="259" y1="7.6" x2="261.4" y2="7.6" stroke="#262626" stroke-width="0.9" />
<text x="257.1" y="10.55" font-size="8.3" text-anchor="end" >100</text>
<line x1="260" y1="126.22" x2="261.4" y2="126.22" stroke="#262626" stroke-width="0.8" />
<line x1="260" y1="99.86" x2="261.4" y2="99.86" stroke="#262626" stroke-width="0.8" />
<line x1="260" y1="73.5" x2="261.4" y2="73.5" stroke="#262626" stroke-width="0.8" />
<line x1="260" y1="47.14" x2="261.4" y2="47.14" stroke="#262626" stroke-width="0.8" />
<line x1="260" y1="20.78" x2="261.4" y2="20.78" stroke="#262626" stroke-width="0.8" />
<line x1="276.5" y1="143.2" x2="276.5" y2="145.6" stroke="#262626" stroke-width="0.9" />
<text x="276.5" y="154.6" font-size="8.3" text-anchor="middle" >30</text>
<line x1="305.08" y1="143.2" x2="305.08" y2="145.6" stroke="#262626" stroke-width="0.9" />
<text x="305.08" y="154.6" font-size="8.3" text-anchor="middle" >25</text>
<line x1="333.66" y1="143.2" x2="333.66" y2="145.6" stroke="#262626" stroke-width="0.9" />
<text x="333.66" y="154.6" font-size="8.3" text-anchor="middle" >20</text>
<line x1="362.24" y1="143.2" x2="362.24" y2="145.6" stroke="#262626" stroke-width="0.9" />
<text x="362.24" y="154.6" font-size="8.3" text-anchor="middle" >15</text>
<line x1="390.82" y1="143.2" x2="390.82" y2="145.6" stroke="#262626" stroke-width="0.9" />
<text x="390.82" y="154.6" font-size="8.3" text-anchor="middle" >10</text>
<line x1="419.4" y1="143.2" x2="419.4" y2="145.6" stroke="#262626" stroke-width="0.9" />
<text x="419.4" y="154.6" font-size="8.3" text-anchor="middle" >5</text>
<text x="0" y="0" font-size="9.1" text-anchor="middle" transform="translate(240 73.8) rotate(-90)">CO FE (%)</text>
<text x="347.8" y="169.8" font-size="9.1" text-anchor="middle">CO<tspan font-size="0.68em" dy="0.3em">2</tspan><tspan dy="-0.3em"> flow rate (sccm)</tspan></text>
<path d="M511.8 108.34C513.16 108.04 517.39 107.1 519.99 106.52C522.58 105.93 525.04 105.38 527.38 104.84C529.73 104.3 531.94 103.79 534.06 103.3C536.18 102.8 538.18 102.33 540.1 101.88C542.01 101.43 543.82 101 545.56 100.59C547.3 100.17 548.94 99.78 550.52 99.4C552.1 99.03 553.6 98.67 555.05 98.33C556.5 97.98 557.88 97.66 559.22 97.34C560.56 97.03 561.84 96.73 563.1 96.45C564.36 96.16 565.57 95.89 566.77 95.63C567.97 95.37 569.13 95.12 570.29 94.88C571.44 94.64 572.57 94.41 573.69 94.19C574.81 93.97 575.91 93.76 577.01 93.55C578.1 93.35 579.19 93.15 580.27 92.95C581.35 92.76 582.42 92.57 583.5 92.38C584.58 92.2 585.65 92.01 586.73 91.83C587.81 91.65 588.9 91.47 589.99 91.29C591.09 91.11 592.19 90.93 593.31 90.75C594.43 90.56 595.56 90.38 596.71 90.19C597.87 90 599.03 89.81 600.23 89.62C601.43 89.42 602.64 89.21 603.9 89.03C605.16 88.84 606.44 88.65 607.78 88.49C609.12 88.34 610.5 88.19 611.95 88.1C613.4 88 614.9 87.93 616.48 87.93C618.06 87.93 619.7 87.97 621.44 88.08C623.18 88.2 624.99 88.37 626.9 88.64C628.82 88.9 630.82 89.24 632.94 89.68C635.06 90.12 637.27 90.65 639.62 91.3C641.96 91.95 644.42 92.7 647.01 93.58C649.61 94.47 653.84 96.11 655.2 96.62" fill="none" stroke="#ea8cbf" stroke-width="1.1"/>
<path d="M511.8 107.94C513.16 107.61 517.39 106.6 519.99 105.97C522.58 105.34 525.04 104.74 527.38 104.16C529.73 103.59 531.94 103.04 534.06 102.51C536.18 101.98 538.18 101.48 540.1 100.99C542.01 100.51 543.82 100.04 545.56 99.59C547.3 99.14 548.94 98.71 550.52 98.29C552.1 97.87 553.6 97.46 555.05 97.07C556.5 96.67 557.88 96.29 559.22 95.91C560.56 95.53 561.84 95.16 563.1 94.8C564.36 94.43 565.57 94.08 566.77 93.72C567.97 93.36 569.13 93.01 570.29 92.65C571.44 92.29 572.57 91.94 573.69 91.58C574.81 91.22 575.91 90.86 577.01 90.49C578.1 90.13 579.19 89.76 580.27 89.38C581.35 88.99 582.42 88.61 583.5 88.21C584.58 87.81 585.65 87.41 586.73 86.99C587.81 86.57 588.9 86.14 589.99 85.69C591.09 85.25 592.19 84.79 593.31 84.31C594.43 83.83 595.56 83.34 596.71 82.82C597.87 82.3 599.03 81.77 600.23 81.22C601.43 80.66 602.64 80.08 603.9 79.49C605.16 78.9 606.44 78.29 607.78 77.69C609.12 77.08 610.5 76.46 611.95 75.85C613.4 75.25 614.9 74.64 616.48 74.05C618.06 73.46 619.7 72.88 621.44 72.32C623.18 71.77 624.99 71.23 626.9 70.73C628.82 70.22 630.82 69.74 632.94 69.31C635.06 68.88 637.27 68.48 639.62 68.13C641.96 67.79 644.42 67.48 647.01 67.24C649.61 67 653.84 66.78 655.2 66.69" fill="none" stroke="#5cb5e6" stroke-width="1.1"/>
<path d="M511.8 107.94C513.16 107.61 517.39 106.59 519.99 105.95C522.58 105.31 525.04 104.69 527.38 104.09C529.73 103.49 531.94 102.91 534.06 102.35C536.18 101.78 538.18 101.24 540.1 100.7C542.01 100.17 543.82 99.65 545.56 99.14C547.3 98.63 548.94 98.14 550.52 97.64C552.1 97.15 553.6 96.67 555.05 96.19C556.5 95.71 557.88 95.24 559.22 94.77C560.56 94.3 561.84 93.84 563.1 93.37C564.36 92.9 565.57 92.43 566.77 91.95C567.97 91.48 569.13 91.01 570.29 90.52C571.44 90.04 572.57 89.55 573.69 89.05C574.81 88.56 575.91 88.05 577.01 87.54C578.1 87.02 579.19 86.49 580.27 85.95C581.35 85.41 582.42 84.85 583.5 84.28C584.58 83.71 585.65 83.12 586.73 82.52C587.81 81.91 588.9 81.29 589.99 80.64C591.09 79.99 592.19 79.33 593.31 78.64C594.43 77.94 595.56 77.23 596.71 76.49C597.87 75.75 599.03 74.98 600.23 74.18C601.43 73.39 602.64 72.56 603.9 71.71C605.16 70.86 606.44 69.98 607.78 69.09C609.12 68.19 610.5 67.27 611.95 66.34C613.4 65.4 614.9 64.45 616.48 63.48C618.06 62.51 619.7 61.53 621.44 60.54C623.18 59.55 624.99 58.55 626.9 57.54C628.82 56.54 630.82 55.52 632.94 54.5C635.06 53.49 637.27 52.47 639.62 51.45C641.96 50.44 644.42 49.42 647.01 48.41C649.61 47.4 653.84 45.89 655.2 45.39" fill="none" stroke="#5c9e86" stroke-width="1.1"/>
<path d="M511.8 107.94C513.16 107.61 517.39 106.59 519.99 105.95C522.58 105.31 525.04 104.69 527.38 104.09C529.73 103.49 531.94 102.91 534.06 102.35C536.18 101.78 538.18 101.23 540.1 100.7C542.01 100.16 543.82 99.64 545.56 99.13C547.3 98.62 548.94 98.12 550.52 97.62C552.1 97.12 553.6 96.64 555.05 96.15C556.5 95.67 557.88 95.19 559.22 94.72C560.56 94.24 561.84 93.76 563.1 93.28C564.36 92.8 565.57 92.33 566.77 91.84C567.97 91.36 569.13 90.87 570.29 90.37C571.44 89.87 572.57 89.37 573.69 88.85C574.81 88.33 575.91 87.8 577.01 87.25C578.1 86.69 579.19 86.13 580.27 85.54C581.35 84.95 582.42 84.34 583.5 83.7C584.58 83.07 585.65 82.41 586.73 81.71C587.81 81.02 588.9 80.3 589.99 79.54C591.09 78.79 592.19 78 593.31 77.17C594.43 76.34 595.56 75.47 596.71 74.56C597.87 73.65 599.03 72.7 600.23 71.7C601.43 70.7 602.64 69.66 603.9 68.56C605.16 67.46 606.44 66.31 607.78 65.11C609.12 63.91 610.5 62.66 611.95 61.35C613.4 60.03 614.9 58.67 616.48 57.24C618.06 55.81 619.7 54.33 621.44 52.78C623.18 51.22 624.99 49.61 626.9 47.93C628.82 46.25 630.82 44.5 632.94 42.69C635.06 40.87 637.27 38.98 639.62 37.02C641.96 35.06 644.42 33.03 647.01 30.92C649.61 28.81 653.84 25.46 655.2 24.36" fill="none" stroke="#ea6a6f" stroke-width="1.1"/>
<path d="M511.8 112.79C513.16 112.56 517.39 111.85 519.99 111.42C522.58 110.99 525.04 110.59 527.38 110.22C529.73 109.84 531.94 109.49 534.06 109.16C536.18 108.83 538.18 108.52 540.1 108.24C542.01 107.95 543.82 107.68 545.56 107.43C547.3 107.18 548.94 106.95 550.52 106.73C552.1 106.51 553.6 106.31 555.05 106.12C556.5 105.93 557.88 105.75 559.22 105.59C560.56 105.42 561.84 105.26 563.1 105.11C564.36 104.96 565.57 104.82 566.77 104.68C567.97 104.54 569.13 104.41 570.29 104.29C571.44 104.16 572.57 104.04 573.69 103.93C574.81 103.82 575.91 103.71 577.01 103.62C578.1 103.52 579.19 103.44 580.27 103.36C581.35 103.28 582.42 103.21 583.5 103.16C584.58 103.1 585.65 103.06 586.73 103.02C587.81 102.99 588.9 102.97 589.99 102.96C591.09 102.95 592.19 102.96 593.31 102.98C594.43 103 595.56 103.03 596.71 103.08C597.87 103.13 599.03 103.19 600.23 103.28C601.43 103.36 602.64 103.46 603.9 103.58C605.16 103.7 606.44 103.84 607.78 104.01C609.12 104.18 610.5 104.38 611.95 104.61C613.4 104.84 614.9 105.1 616.48 105.4C618.06 105.7 619.7 106.04 621.44 106.42C623.18 106.8 624.99 107.22 626.9 107.7C628.82 108.17 630.82 108.69 632.94 109.27C635.06 109.84 637.27 110.47 639.62 111.16C641.96 111.85 644.42 112.59 647.01 113.4C649.61 114.21 653.84 115.59 655.2 116.03" fill="none" stroke="#9a74ad" stroke-width="1.1"/>
<path d="M511.8 140.16C513.16 140.16 517.39 140.18 519.99 140.2C522.58 140.21 525.04 140.22 527.38 140.24C529.73 140.25 531.94 140.26 534.06 140.28C536.18 140.29 538.18 140.3 540.1 140.32C542.01 140.33 543.82 140.34 545.56 140.35C547.3 140.37 548.94 140.38 550.52 140.39C552.1 140.4 553.6 140.41 555.05 140.42C556.5 140.44 557.88 140.45 559.22 140.46C560.56 140.47 561.84 140.48 563.1 140.49C564.36 140.5 565.57 140.51 566.77 140.52C567.97 140.52 569.13 140.53 570.29 140.54C571.44 140.55 572.57 140.56 573.69 140.56C574.81 140.57 575.91 140.58 577.01 140.59C578.1 140.59 579.19 140.6 580.27 140.6C581.35 140.61 582.42 140.61 583.5 140.62C584.58 140.62 585.65 140.63 586.73 140.63C587.81 140.64 588.9 140.64 589.99 140.65C591.09 140.65 592.19 140.65 593.31 140.66C594.43 140.66 595.56 140.66 596.71 140.67C597.87 140.67 599.03 140.67 600.23 140.67C601.43 140.68 602.64 140.68 603.9 140.68C605.16 140.68 606.44 140.68 607.78 140.69C609.12 140.69 610.5 140.69 611.95 140.69C613.4 140.69 614.9 140.7 616.48 140.7C618.06 140.7 619.7 140.71 621.44 140.71C623.18 140.71 624.99 140.72 626.9 140.72C628.82 140.73 630.82 140.73 632.94 140.74C635.06 140.75 637.27 140.76 639.62 140.76C641.96 140.77 644.42 140.78 647.01 140.79C649.61 140.8 653.84 140.82 655.2 140.83" fill="none" stroke="#777777" stroke-width="1.1"/>
<line x1="511.8" y1="109.69" x2="511.8" y2="107" stroke="#ea8cbf" stroke-width="0.7" />
<line x1="509.8" y1="109.69" x2="513.8" y2="109.69" stroke="#ea8cbf" stroke-width="0.7" />
<line x1="509.8" y1="107" x2="513.8" y2="107" stroke="#ea8cbf" stroke-width="0.7" />
<path d="M509.1 106.27H514.5L511.8 110.87Z" fill="#ea8cbf"/>
<line x1="540.48" y1="103.36" x2="540.48" y2="100.66" stroke="#ea8cbf" stroke-width="0.7" />
<line x1="538.48" y1="103.36" x2="542.48" y2="103.36" stroke="#ea8cbf" stroke-width="0.7" />
<line x1="538.48" y1="100.66" x2="542.48" y2="100.66" stroke="#ea8cbf" stroke-width="0.7" />
<path d="M537.78 99.94H543.18L540.48 104.54Z" fill="#ea8cbf"/>
<line x1="569.16" y1="95.81" x2="569.16" y2="93.11" stroke="#ea8cbf" stroke-width="0.7" />
<line x1="567.16" y1="95.81" x2="571.16" y2="95.81" stroke="#ea8cbf" stroke-width="0.7" />
<line x1="567.16" y1="93.11" x2="571.16" y2="93.11" stroke="#ea8cbf" stroke-width="0.7" />
<path d="M566.46 92.39H571.86L569.16 96.99Z" fill="#ea8cbf"/>
<line x1="597.84" y1="92.17" x2="597.84" y2="88.12" stroke="#ea8cbf" stroke-width="0.7" />
<line x1="595.84" y1="92.17" x2="599.84" y2="92.17" stroke="#ea8cbf" stroke-width="0.7" />
<line x1="595.84" y1="88.12" x2="599.84" y2="88.12" stroke="#ea8cbf" stroke-width="0.7" />
<path d="M595.14 88.08H600.54L597.84 92.68Z" fill="#ea8cbf"/>
<line x1="626.52" y1="87.85" x2="626.52" y2="82.46" stroke="#ea8cbf" stroke-width="0.7" />
<line x1="624.52" y1="87.85" x2="628.52" y2="87.85" stroke="#ea8cbf" stroke-width="0.7" />
<line x1="624.52" y1="82.46" x2="628.52" y2="82.46" stroke="#ea8cbf" stroke-width="0.7" />
<path d="M623.82 83.09H629.22L626.52 87.69Z" fill="#ea8cbf"/>
<line x1="655.2" y1="102.01" x2="655.2" y2="91.22" stroke="#ea8cbf" stroke-width="0.7" />
<line x1="653.2" y1="102.01" x2="657.2" y2="102.01" stroke="#ea8cbf" stroke-width="0.7" />
<line x1="653.2" y1="91.22" x2="657.2" y2="91.22" stroke="#ea8cbf" stroke-width="0.7" />
<path d="M652.5 94.55H657.9L655.2 99.15Z" fill="#ea8cbf"/>
<line x1="511.8" y1="109.29" x2="511.8" y2="106.59" stroke="#5cb5e6" stroke-width="0.7" />
<line x1="509.8" y1="109.29" x2="513.8" y2="109.29" stroke="#5cb5e6" stroke-width="0.7" />
<line x1="509.8" y1="106.59" x2="513.8" y2="106.59" stroke="#5cb5e6" stroke-width="0.7" />
<circle cx="511.8" cy="107.94" r="2.5" fill="#5cb5e6"/>
<line x1="540.48" y1="102.41" x2="540.48" y2="99.72" stroke="#5cb5e6" stroke-width="0.7" />
<line x1="538.48" y1="102.41" x2="542.48" y2="102.41" stroke="#5cb5e6" stroke-width="0.7" />
<line x1="538.48" y1="99.72" x2="542.48" y2="99.72" stroke="#5cb5e6" stroke-width="0.7" />
<circle cx="540.48" cy="101.06" r="2.5" fill="#5cb5e6"/>
<line x1="569.16" y1="94.86" x2="569.16" y2="92.17" stroke="#5cb5e6" stroke-width="0.7" />
<line x1="567.16" y1="94.86" x2="571.16" y2="94.86" stroke="#5cb5e6" stroke-width="0.7" />
<line x1="567.16" y1="92.17" x2="571.16" y2="92.17" stroke="#5cb5e6" stroke-width="0.7" />
<circle cx="569.16" cy="93.52" r="2.5" fill="#5cb5e6"/>
<line x1="597.84" y1="84.75" x2="597.84" y2="82.06" stroke="#5cb5e6" stroke-width="0.7" />
<line x1="595.84" y1="84.75" x2="599.84" y2="84.75" stroke="#5cb5e6" stroke-width="0.7" />
<line x1="595.84" y1="82.06" x2="599.84" y2="82.06" stroke="#5cb5e6" stroke-width="0.7" />
<circle cx="597.84" cy="83.41" r="2.5" fill="#5cb5e6"/>
<line x1="626.52" y1="69.93" x2="626.52" y2="65.88" stroke="#5cb5e6" stroke-width="0.7" />
<line x1="624.52" y1="69.93" x2="628.52" y2="69.93" stroke="#5cb5e6" stroke-width="0.7" />
<line x1="624.52" y1="65.88" x2="628.52" y2="65.88" stroke="#5cb5e6" stroke-width="0.7" />
<circle cx="626.52" cy="67.9" r="2.5" fill="#5cb5e6"/>
<line x1="655.2" y1="70.73" x2="655.2" y2="62.65" stroke="#5cb5e6" stroke-width="0.7" />
<line x1="653.2" y1="70.73" x2="657.2" y2="70.73" stroke="#5cb5e6" stroke-width="0.7" />
<line x1="653.2" y1="62.65" x2="657.2" y2="62.65" stroke="#5cb5e6" stroke-width="0.7" />
<circle cx="655.2" cy="66.69" r="2.5" fill="#5cb5e6"/>
<line x1="511.8" y1="109.29" x2="511.8" y2="106.59" stroke="#5c9e86" stroke-width="0.7" />
<line x1="509.8" y1="109.29" x2="513.8" y2="109.29" stroke="#5c9e86" stroke-width="0.7" />
<line x1="509.8" y1="106.59" x2="513.8" y2="106.59" stroke="#5c9e86" stroke-width="0.7" />
<path d="M509.1 110.01H514.5L511.8 105.41Z" fill="#5c9e86"/>
<line x1="540.48" y1="102.41" x2="540.48" y2="99.72" stroke="#5c9e86" stroke-width="0.7" />
<line x1="538.48" y1="102.41" x2="542.48" y2="102.41" stroke="#5c9e86" stroke-width="0.7" />
<line x1="538.48" y1="99.72" x2="542.48" y2="99.72" stroke="#5c9e86" stroke-width="0.7" />
<path d="M537.78 103.13H543.18L540.48 98.53Z" fill="#5c9e86"/>
<line x1="569.16" y1="93.65" x2="569.16" y2="90.95" stroke="#5c9e86" stroke-width="0.7" />
<line x1="567.16" y1="93.65" x2="571.16" y2="93.65" stroke="#5c9e86" stroke-width="0.7" />
<line x1="567.16" y1="90.95" x2="571.16" y2="90.95" stroke="#5c9e86" stroke-width="0.7" />
<path d="M566.46 94.37H571.86L569.16 89.77Z" fill="#5c9e86"/>
<line x1="597.84" y1="78.42" x2="597.84" y2="75.72" stroke="#5c9e86" stroke-width="0.7" />
<line x1="595.84" y1="78.42" x2="599.84" y2="78.42" stroke="#5c9e86" stroke-width="0.7" />
<line x1="595.84" y1="75.72" x2="599.84" y2="75.72" stroke="#5c9e86" stroke-width="0.7" />
<path d="M595.14 79.14H600.54L597.84 74.54Z" fill="#5c9e86"/>
<line x1="626.52" y1="58.06" x2="626.52" y2="52.67" stroke="#5c9e86" stroke-width="0.7" />
<line x1="624.52" y1="58.06" x2="628.52" y2="58.06" stroke="#5c9e86" stroke-width="0.7" />
<line x1="624.52" y1="52.67" x2="628.52" y2="52.67" stroke="#5c9e86" stroke-width="0.7" />
<path d="M623.82 57.44H629.22L626.52 52.84Z" fill="#5c9e86"/>
<line x1="655.2" y1="49.44" x2="655.2" y2="41.35" stroke="#5c9e86" stroke-width="0.7" />
<line x1="653.2" y1="49.44" x2="657.2" y2="49.44" stroke="#5c9e86" stroke-width="0.7" />
<line x1="653.2" y1="41.35" x2="657.2" y2="41.35" stroke="#5c9e86" stroke-width="0.7" />
<path d="M652.5 47.46H657.9L655.2 42.86Z" fill="#5c9e86"/>
<line x1="511.8" y1="109.29" x2="511.8" y2="106.59" stroke="#ea6a6f" stroke-width="0.7" />
<line x1="509.8" y1="109.29" x2="513.8" y2="109.29" stroke="#ea6a6f" stroke-width="0.7" />
<line x1="509.8" y1="106.59" x2="513.8" y2="106.59" stroke="#ea6a6f" stroke-width="0.7" />
<rect x="509.65" y="105.79" width="4.3" height="4.3" fill="#ea6a6f"/>
<line x1="540.48" y1="102.41" x2="540.48" y2="99.72" stroke="#ea6a6f" stroke-width="0.7" />
<line x1="538.48" y1="102.41" x2="542.48" y2="102.41" stroke="#ea6a6f" stroke-width="0.7" />
<line x1="538.48" y1="99.72" x2="542.48" y2="99.72" stroke="#ea6a6f" stroke-width="0.7" />
<rect x="538.33" y="98.91" width="4.3" height="4.3" fill="#ea6a6f"/>
<line x1="569.16" y1="93.65" x2="569.16" y2="90.95" stroke="#ea6a6f" stroke-width="0.7" />
<line x1="567.16" y1="93.65" x2="571.16" y2="93.65" stroke="#ea6a6f" stroke-width="0.7" />
<line x1="567.16" y1="90.95" x2="571.16" y2="90.95" stroke="#ea6a6f" stroke-width="0.7" />
<rect x="567.01" y="90.15" width="4.3" height="4.3" fill="#ea6a6f"/>
<line x1="597.84" y1="77.74" x2="597.84" y2="75.05" stroke="#ea6a6f" stroke-width="0.7" />
<line x1="595.84" y1="77.74" x2="599.84" y2="77.74" stroke="#ea6a6f" stroke-width="0.7" />
<line x1="595.84" y1="75.05" x2="599.84" y2="75.05" stroke="#ea6a6f" stroke-width="0.7" />
<rect x="595.69" y="74.25" width="4.3" height="4.3" fill="#ea6a6f"/>
<line x1="626.52" y1="49.71" x2="626.52" y2="44.31" stroke="#ea6a6f" stroke-width="0.7" />
<line x1="624.52" y1="49.71" x2="628.52" y2="49.71" stroke="#ea6a6f" stroke-width="0.7" />
<line x1="624.52" y1="44.31" x2="628.52" y2="44.31" stroke="#ea6a6f" stroke-width="0.7" />
<rect x="624.37" y="44.86" width="4.3" height="4.3" fill="#ea6a6f"/>
<line x1="655.2" y1="31.1" x2="655.2" y2="17.62" stroke="#ea6a6f" stroke-width="0.7" />
<line x1="653.2" y1="31.1" x2="657.2" y2="31.1" stroke="#ea6a6f" stroke-width="0.7" />
<line x1="653.2" y1="17.62" x2="657.2" y2="17.62" stroke="#ea6a6f" stroke-width="0.7" />
<rect x="653.05" y="22.21" width="4.3" height="4.3" fill="#ea6a6f"/>
<line x1="511.8" y1="114.14" x2="511.8" y2="111.44" stroke="#9a74ad" stroke-width="0.7" />
<line x1="509.8" y1="114.14" x2="513.8" y2="114.14" stroke="#9a74ad" stroke-width="0.7" />
<line x1="509.8" y1="111.44" x2="513.8" y2="111.44" stroke="#9a74ad" stroke-width="0.7" />
<path d="M511.8 109.79L514.8 112.79L511.8 115.79L508.8 112.79Z" fill="#9a74ad"/>
<line x1="540.48" y1="109.29" x2="540.48" y2="106.59" stroke="#9a74ad" stroke-width="0.7" />
<line x1="538.48" y1="109.29" x2="542.48" y2="109.29" stroke="#9a74ad" stroke-width="0.7" />
<line x1="538.48" y1="106.59" x2="542.48" y2="106.59" stroke="#9a74ad" stroke-width="0.7" />
<path d="M540.48 104.94L543.48 107.94L540.48 110.94L537.48 107.94Z" fill="#9a74ad"/>
<line x1="569.16" y1="105.51" x2="569.16" y2="102.82" stroke="#9a74ad" stroke-width="0.7" />
<line x1="567.16" y1="105.51" x2="571.16" y2="105.51" stroke="#9a74ad" stroke-width="0.7" />
<line x1="567.16" y1="102.82" x2="571.16" y2="102.82" stroke="#9a74ad" stroke-width="0.7" />
<path d="M569.16 101.16L572.16 104.16L569.16 107.16L566.16 104.16Z" fill="#9a74ad"/>
<line x1="597.84" y1="102.95" x2="597.84" y2="100.26" stroke="#9a74ad" stroke-width="0.7" />
<line x1="595.84" y1="102.95" x2="599.84" y2="102.95" stroke="#9a74ad" stroke-width="0.7" />
<line x1="595.84" y1="100.26" x2="599.84" y2="100.26" stroke="#9a74ad" stroke-width="0.7" />
<path d="M597.84 98.6L600.84 101.6L597.84 104.6L594.84 101.6Z" fill="#9a74ad"/>
<line x1="626.52" y1="107.94" x2="626.52" y2="105.24" stroke="#9a74ad" stroke-width="0.7" />
<line x1="624.52" y1="107.94" x2="628.52" y2="107.94" stroke="#9a74ad" stroke-width="0.7" />
<line x1="624.52" y1="105.24" x2="628.52" y2="105.24" stroke="#9a74ad" stroke-width="0.7" />
<path d="M626.52 103.59L629.52 106.59L626.52 109.59L623.52 106.59Z" fill="#9a74ad"/>
<line x1="655.2" y1="118.72" x2="655.2" y2="113.33" stroke="#9a74ad" stroke-width="0.7" />
<line x1="653.2" y1="118.72" x2="657.2" y2="118.72" stroke="#9a74ad" stroke-width="0.7" />
<line x1="653.2" y1="113.33" x2="657.2" y2="113.33" stroke="#9a74ad" stroke-width="0.7" />
<path d="M655.2 113.03L658.2 116.03L655.2 119.03L652.2 116.03Z" fill="#9a74ad"/>
<circle cx="511.8" cy="140.16" r="2.5" fill="#777777"/>
<circle cx="540.48" cy="140.29" r="2.5" fill="#777777"/>
<circle cx="569.16" cy="140.56" r="2.5" fill="#777777"/>
<circle cx="597.84" cy="140.7" r="2.5" fill="#777777"/>
<circle cx="626.52" cy="140.7" r="2.5" fill="#777777"/>
<circle cx="655.2" cy="140.83" r="2.5" fill="#777777"/>
<rect x="497.4" y="6.3" width="172.2" height="138" fill="none" stroke="#262626" stroke-width="1.0"/>
<line x1="495" y1="141.1" x2="497.4" y2="141.1" stroke="#262626" stroke-width="0.9" />
<text x="493.1" y="144.05" font-size="8.3" text-anchor="end" >0</text>
<line x1="495" y1="114.14" x2="497.4" y2="114.14" stroke="#262626" stroke-width="0.9" />
<text x="493.1" y="117.09" font-size="8.3" text-anchor="end" >20</text>
<line x1="495" y1="87.18" x2="497.4" y2="87.18" stroke="#262626" stroke-width="0.9" />
<text x="493.1" y="90.13" font-size="8.3" text-anchor="end" >40</text>
<line x1="495" y1="60.22" x2="497.4" y2="60.22" stroke="#262626" stroke-width="0.9" />
<text x="493.1" y="63.17" font-size="8.3" text-anchor="end" >60</text>
<line x1="495" y1="33.26" x2="497.4" y2="33.26" stroke="#262626" stroke-width="0.9" />
<text x="493.1" y="36.21" font-size="8.3" text-anchor="end" >80</text>
<line x1="495" y1="6.3" x2="497.4" y2="6.3" stroke="#262626" stroke-width="0.9" />
<text x="493.1" y="9.25" font-size="8.3" text-anchor="end" >100</text>
<line x1="496" y1="127.62" x2="497.4" y2="127.62" stroke="#262626" stroke-width="0.8" />
<line x1="496" y1="100.66" x2="497.4" y2="100.66" stroke="#262626" stroke-width="0.8" />
<line x1="496" y1="73.7" x2="497.4" y2="73.7" stroke="#262626" stroke-width="0.8" />
<line x1="496" y1="46.74" x2="497.4" y2="46.74" stroke="#262626" stroke-width="0.8" />
<line x1="496" y1="19.78" x2="497.4" y2="19.78" stroke="#262626" stroke-width="0.8" />
<line x1="511.8" y1="144.3" x2="511.8" y2="146.7" stroke="#262626" stroke-width="0.9" />
<text x="511.8" y="155.7" font-size="8.3" text-anchor="middle" >30</text>
<line x1="540.48" y1="144.3" x2="540.48" y2="146.7" stroke="#262626" stroke-width="0.9" />
<text x="540.48" y="155.7" font-size="8.3" text-anchor="middle" >25</text>
<line x1="569.16" y1="144.3" x2="569.16" y2="146.7" stroke="#262626" stroke-width="0.9" />
<text x="569.16" y="155.7" font-size="8.3" text-anchor="middle" >20</text>
<line x1="597.84" y1="144.3" x2="597.84" y2="146.7" stroke="#262626" stroke-width="0.9" />
<text x="597.84" y="155.7" font-size="8.3" text-anchor="middle" >15</text>
<line x1="626.52" y1="144.3" x2="626.52" y2="146.7" stroke="#262626" stroke-width="0.9" />
<text x="626.52" y="155.7" font-size="8.3" text-anchor="middle" >10</text>
<line x1="655.2" y1="144.3" x2="655.2" y2="146.7" stroke="#262626" stroke-width="0.9" />
<text x="655.2" y="155.7" font-size="8.3" text-anchor="middle" >5</text>
<text x="0" y="0" font-size="9.1" text-anchor="middle" transform="translate(474.2 75) rotate(-90)">CO<tspan font-size="0.68em" dy="0.3em">2</tspan><tspan dy="-0.3em"> SPCE (%)</tspan></text>
<text x="583.5" y="170.8" font-size="9.1" text-anchor="middle">CO<tspan font-size="0.68em" dy="0.3em">2</tspan><tspan dy="-0.3em"> flow rate (sccm)</tspan></text>
<line x1="507.2" y1="12.1" x2="525" y2="12.1" stroke="#ea8cbf" stroke-width="1.1" />
<path d="M513.53 10.13H518.67L516.1 14.5Z" fill="#ea8cbf"/>
<text x="527.2" y="15.05" font-size="8.2" text-anchor="start" >pH 4</text>
<line x1="507.2" y1="21.84" x2="525" y2="21.84" stroke="#5cb5e6" stroke-width="1.1" />
<circle cx="516.1" cy="21.84" r="2.38" fill="#5cb5e6"/>
<text x="527.2" y="24.79" font-size="8.2" text-anchor="start" >pH 3</text>
<line x1="507.2" y1="31.58" x2="525" y2="31.58" stroke="#5c9e86" stroke-width="1.1" />
<path d="M513.53 33.55H518.67L516.1 29.18Z" fill="#5c9e86"/>
<text x="527.2" y="34.53" font-size="8.2" text-anchor="start" >pH 2</text>
<line x1="507.2" y1="41.32" x2="525" y2="41.32" stroke="#ea6a6f" stroke-width="1.1" />
<rect x="514.06" y="39.28" width="4.08" height="4.08" fill="#ea6a6f"/>
<text x="527.2" y="44.27" font-size="8.2" text-anchor="start" >pH 1</text>
<line x1="507.2" y1="51.06" x2="525" y2="51.06" stroke="#9a74ad" stroke-width="1.1" />
<path d="M516.1 48.21L518.95 51.06L516.1 53.91L513.25 51.06Z" fill="#9a74ad"/>
<text x="527.2" y="54.01" font-size="8.2" text-anchor="start" >pH 0.5</text>
<line x1="507.2" y1="60.8" x2="525" y2="60.8" stroke="#777777" stroke-width="1.1" />
<circle cx="516.1" cy="60.8" r="2.38" fill="#777777"/>
<text x="527.2" y="63.75" font-size="8.2" text-anchor="start" >pH 0</text>
<defs><clipPath id="cpb"><rect x="30.4" y="190.7" width="151.1" height="137.8"/></clipPath><clipPath id="cpd"><rect x="262.3" y="190.7" width="151.1" height="137.8"/></clipPath><clipPath id="cpf"><rect x="496.6" y="190.3" width="151.1" height="138.2"/></clipPath></defs>
<g clip-path="url(#cpb)"><rect x="30" y="190" width="152" height="139" fill="#009a96"/>
<path d="M33.4 189.7 182.4 189.7 182.4 278.5 175.4 274.6 166.4 272.1 127.4 268.3 93.4 261.1 65.4 259.3 58.4 257.7 52.4 255.1 47.9 251.7 43.9 247.1 41.2 242.7 39.1 237.2 36.2 222.2 35.1 199.7Z" fill="#059c98" fill-rule="evenodd"/>
<path d="M36.4 189.7 182.4 189.7 182.4 271.5 175.9 268.8 168.9 267 125.4 262.3 116.4 260.4 98.4 255.1 89.4 253.8 69.4 251.9 63.9 250.6 59.7 248.7 54.9 245.4 50.4 240.9 47.1 236.2 44.7 231.2 42.7 225.2 40.9 217.1 38.1 197.7Z" fill="#0a9e9a" fill-rule="evenodd"/>
<path d="M39.4 189.7 182.4 189.7 182.4 266.7 175.9 264.4 168.4 262.8 123.4 257.7 115.9 255.9 100.9 251 73.4 246.7 68.4 245.4 64.4 243.7 59.8 240.7 55.5 236.7 52.3 232.7 49.5 227.7 44.1 211.7 40.6 195.7 38.9 189.7Z" fill="#10a09d" fill-rule="evenodd"/>
<path d="M41.9 189.7 182.4 189.7 182.4 262.9 176.4 261 169.9 259.7 123.4 254.3 116.4 252.5 103.4 247.9 77.9 243 72.4 241.4 67.9 239.5 63.4 236.6 59.5 233.2 56.2 229.2 53.4 224.7 47.4 210.1Z" fill="#17a3a0" fill-rule="evenodd"/>
<path d="M44.4 189.7 182.4 189.7 182.4 259.6 172.1 257.2 123.4 251.4 104.4 245.3 80.9 240 71.9 236.6 67.4 234 63.4 230.7 59.7 226.7 56.7 222.2 50.4 208.7Z" fill="#1fa6a3" fill-rule="evenodd"/>
<path d="M46.9 189.7 182.4 189.7 182.4 256.8 173.9 254.9 123.9 248.8 105.9 243.2 84.9 237.9 75.4 234.3 70.4 231.4 66.4 228.2 62.9 224.5 59.8 220.2 53.4 207.7Z" fill="#27a9a6" fill-rule="evenodd"/>
<path d="M49.4 189.7 182.4 189.7 182.4 254.3 175.4 252.8 159.4 251.3 142.9 248.6 124.4 246.4 89.4 236.5 78.9 232.4 74 229.7 69.9 226.6 65.9 222.7 62.8 218.7 56.1 206.7Z" fill="#2fada9" fill-rule="evenodd"/>
<path d="M52.4 189.7 182.4 189.7 182.4 252 175.9 250.8 159.4 249.3 143.4 246.6 125.4 244.1 93.4 235.1 82.4 231 77.4 228.2 72.9 224.9 68.9 221.2 65.6 217.2 61.7 211.2 57.8 203.7 52.7 191.7 51.9 189.7Z" fill="#38b0ad" fill-rule="evenodd"/>
<path d="M54.9 189.7 182.4 189.7 182.4 250 176.9 249.1 159.9 247.6 126.4 242 97.4 234 85.8 229.7 80.9 227.1 76.1 223.7 71.9 219.9 68.4 215.9 64.5 210.2 60.4 202.9 55.9 193.2 54.5 189.7Z" fill="#42b4b1" fill-rule="evenodd"/>
<path d="M57.4 189.7 182.4 189.7 182.4 248.2 159.9 245.8 127.4 240.1 100.9 232.9 88.9 228.5 83.9 225.8 79.3 222.7 75.3 219.2 71.4 215 67.2 209.2 62.9 202 58.7 193.7 57 189.7Z" fill="#4cb8b5" fill-rule="evenodd"/>
<path d="M59.9 189.7 182.4 189.7 182.4 246.6 159.4 244.1 129.4 238.5 104.4 231.9 91.9 227.4 82.4 221.7 74.4 214.2 70.4 209 65.9 202 61.4 193.7Z" fill="#56bcb9" fill-rule="evenodd"/>
<path d="M62.4 189.7 182.4 189.7 182.4 245.2 159.4 242.5 131.9 237.1 106.4 230.5 94.4 226.1 85.3 220.7 77.2 213.2 68.8 201.7 64.1 193.7Z" fill="#61c0be" fill-rule="evenodd"/>
<path d="M64.9 189.7 182.4 189.7 182.4 243.8 159.9 241.1 137.9 236.5 109.4 229.3 96.9 225 88.4 220 80.3 212.7 72.3 202.2Z" fill="#6cc5c2" fill-rule="evenodd"/>
<path d="M67.9 189.7 182.4 189.7 182.4 242.5 161.9 239.9 147.4 237 111.4 227.9 98.9 223.7 90.5 218.7 82.9 211.7 74.4 200.7 69.6 193.2Z" fill="#77c9c7" fill-rule="evenodd"/>
<path d="M70.9 189.7 182.4 189.7 182.4 241.3 162.9 238.7 149.9 236.1 110.9 225.9 100.4 222.2 92.9 217.6 85.4 210.7 76.9 199.7 72 192.2Z" fill="#83cecc" fill-rule="evenodd"/>
<path d="M73.9 189.7 182.4 189.7 182.4 240.1 163.9 237.5 151.4 235 111.4 224 102.4 220.9 95.4 216.7 88.4 210.2 80.2 199.7Z" fill="#8fd2d1" fill-rule="evenodd"/>
<path d="M76.9 189.7 182.4 189.7 182.4 238.9 164.4 236.3 152.4 233.8 111.4 222.1 103.9 219.4 97.4 215.3 90.9 209.2 83.4 199.7Z" fill="#9bd7d6" fill-rule="evenodd"/>
<path d="M79.9 189.7 182.4 189.7 182.4 237.7 164.9 235.1 152.9 232.5 111.9 220.2 105.4 217.8 99.7 214.2 93.9 208.7 87.8 201.2Z" fill="#a7dcdb" fill-rule="evenodd"/>
<path d="M83.4 189.7 182.4 189.7 182.4 236.5 165.4 233.9 153.4 231.2 113.4 218.6 107.4 216.3 101.6 212.7 95.9 207.2 88.6 197.7 83 189.7Z" fill="#b4e1e0" fill-rule="evenodd"/>
<path d="M86.4 189.7 182.4 189.7 182.4 235.4 165.9 232.8 153.9 230 115.4 217.2 109.4 214.8 103.9 211.4 98.8 206.7 93.6 200.2Z" fill="#c1e6e6" fill-rule="evenodd"/>
<path d="M89.4 189.7 182.4 189.7 182.4 234.2 166.4 231.6 154.4 228.7 111.9 213.6 106.4 210.4 101.4 205.9 97.2 200.7Z" fill="#ceeceb" fill-rule="evenodd"/>
<path d="M92.9 189.7 182.4 189.7 182.4 233.1 166.9 230.5 154.9 227.5 113.9 212.3 108.4 209 103.6 204.7 99.2 199.2 92.4 189.7Z" fill="#dcf1f1" fill-rule="evenodd"/>
<path d="M95.9 189.7 182.4 189.7 182.4 231.9 167.4 229.4 155.9 226.5 116.3 211.2 110.4 207.7 105.9 203.7 101.8 198.7 95.5 189.7Z" fill="#eaf7f6" fill-rule="evenodd"/>
<path d="M98.9 189.7 182.4 189.7 182.4 230.8 167.9 228.3 156.4 225.3 118.4 210.1 112.7 206.7 108.1 202.7 104 197.7 98.5 189.7Z" fill="#f8fcfc" fill-rule="evenodd"/>
<path d="M101.4 189.7 182.4 189.7 182.4 229.7 168.4 227.2 157.4 224.2 120.8 209.2 114.9 205.7 110.4 202 106.8 197.7Z" fill="#fef5f5" fill-rule="evenodd"/>
<path d="M104.4 189.7 182.4 189.7 182.4 228.5 169.3 226.2 158.3 223.2 122.9 208.2 116.9 204.7 112.1 200.7 108.3 196.2 104 189.7Z" fill="#fde8e9" fill-rule="evenodd"/>
<path d="M106.9 189.7 182.4 189.7 182.4 227.4 169.4 225 158.9 222 124.9 207.2 118.9 203.8 114.4 200.2 110.1 195.2 106.5 189.7Z" fill="#fbddde" fill-rule="evenodd"/>
<path d="M108.9 189.7 182.4 189.7 182.4 226.2 170.4 224 159.9 221 127.4 206.6 121.4 203.2 116.4 199.4 112.6 195.2Z" fill="#fad3d5" fill-rule="evenodd"/>
<path d="M111.4 189.7 182.4 189.7 182.4 225 170.9 222.9 160.9 220 129.5 205.7 123.2 202.2 118.4 198.6 114.2 194.2Z" fill="#f9cacc" fill-rule="evenodd"/>
<path d="M113.4 189.7 182.4 189.7 182.4 223.9 171.4 221.7 161.4 218.7 131.9 205 125.4 201.5 120.7 198.2 116.9 194.5Z" fill="#f9c2c4" fill-rule="evenodd"/>
<path d="M115.9 189.7 182.4 189.7 182.4 222.6 172.4 220.7 162.6 217.7 134.1 204.2 127.4 200.6 122.4 197.2 118.4 193.4Z" fill="#f8b9bc" fill-rule="evenodd"/>
<path d="M118.4 189.7 182.4 189.7 182.4 221.4 172.9 219.4 163.4 216.4 137 203.7 129.4 199.7 124.4 196.4 120.3 192.7 118 189.7Z" fill="#f7b2b4" fill-rule="evenodd"/>
<path d="M120.4 189.7 182.4 189.7 182.4 220.1 169.4 217 158.4 212.5 130.4 198.2 124 193.7Z" fill="#f6aaad" fill-rule="evenodd"/>
<path d="M122.9 189.7 182.4 189.7 182.4 218.8 170.4 215.7 160.4 211.7 132.5 197.2 126.5 193.2Z" fill="#f5a3a5" fill-rule="evenodd"/>
<path d="M125.9 189.7 182.4 189.7 182.4 217.4 171.4 214.4 161.4 210.3 134.6 196.2 129.2 192.7Z" fill="#f59b9e" fill-rule="evenodd"/>
<path d="M129.4 189.7 182.4 189.7 182.4 215.8 172.8 213.2 162.9 209 137.4 195.5 131.9 192Z" fill="#f49498" fill-rule="evenodd"/>
<path d="M132.9 189.7 182.4 189.7 182.4 214.2 173.4 211.6 164.3 207.7 140.4 194.8Z" fill="#f38d91" fill-rule="evenodd"/>
<path d="M136.9 189.7 182.4 189.7 182.4 212.4 173.9 209.9 165.5 206.2 143.7 194.2Z" fill="#f2878a" fill-rule="evenodd"/>
<path d="M140.9 189.7 182.4 189.7 182.4 210.6 174.9 208.2 167.4 204.9Z" fill="#f28084" fill-rule="evenodd"/>
<path d="M145.4 189.7 182.4 189.7 182.4 208.7 175.4 206.3 168.6 203.2Z" fill="#f17a7e" fill-rule="evenodd"/>
<path d="M150.4 189.7 182.4 189.7 182.4 206.6 175.9 204.3 169.4 201.2Z" fill="#f07378" fill-rule="evenodd"/>
<path d="M154.9 189.7 182.4 189.7 182.4 204.4 171.3 199.7Z" fill="#f06d71" fill-rule="evenodd"/>
<path d="M159.9 189.7 182.4 189.7 182.4 202.2 172.4 197.7Z" fill="#ef676b" fill-rule="evenodd"/>
<path d="M164.4 189.7 182.4 189.7 182.4 199.8 173.8 195.7Z" fill="#ee6065" fill-rule="evenodd"/>
<path d="M168.9 189.7 182.4 189.7 182.4 197.2 175.4 193.8Z" fill="#ee5a60" fill-rule="evenodd"/>
<path d="M173.9 189.7 182.4 189.7 182.4 194.6 176.7 191.7Z" fill="#ed545a" fill-rule="evenodd"/>
<path d="M178.9 189.7 182.4 189.7 182.4 191.8Z" fill="#ed4f54" fill-rule="evenodd"/>
<path d="M182.4 259.6 177.9 258.3 172.9 257.3 156.9 255.5 142.4 253.6 127.9 252.1 122.9 251.3 117.9 249.9M112.4 248 103.9 245.2 85.4 241.2 77.4 238.9 73.9 237.6 70.4 235.8 67.4 234 64.5 231.7 61.4 228.7 58.9 225.6 56.4 221.7 54.1 217.2 49.9 207.2 44.2 189.7" fill="none" stroke="#111" stroke-width="1.25" stroke-dasharray="2.8 1.7"/>
</g>
<text x="115.4" y="251.2" font-size="7.8" text-anchor="middle" >5</text>
<rect x="30.4" y="190.7" width="151.1" height="137.8" fill="none" stroke="#262626" stroke-width="1.0"/>
<line x1="28" y1="328.3" x2="30.4" y2="328.3" stroke="#262626" stroke-width="0.9" />
<text x="26.1" y="331.25" font-size="8.3" text-anchor="end" >0</text>
<line x1="28" y1="303.5" x2="30.4" y2="303.5" stroke="#262626" stroke-width="0.9" />
<text x="26.1" y="306.45" font-size="8.3" text-anchor="end" >0.5</text>
<line x1="28" y1="275.3" x2="30.4" y2="275.3" stroke="#262626" stroke-width="0.9" />
<text x="26.1" y="278.25" font-size="8.3" text-anchor="end" >1.0</text>
<line x1="28" y1="247.4" x2="30.4" y2="247.4" stroke="#262626" stroke-width="0.9" />
<text x="26.1" y="250.35" font-size="8.3" text-anchor="end" >2.0</text>
<line x1="28" y1="218.2" x2="30.4" y2="218.2" stroke="#262626" stroke-width="0.9" />
<text x="26.1" y="221.15" font-size="8.3" text-anchor="end" >3.0</text>
<line x1="28" y1="190.9" x2="30.4" y2="190.9" stroke="#262626" stroke-width="0.9" />
<text x="26.1" y="193.85" font-size="8.3" text-anchor="end" >4.0</text>
<line x1="30.4" y1="328.5" x2="30.4" y2="330.9" stroke="#262626" stroke-width="0.9" />
<text x="30.4" y="339.9" font-size="8.3" text-anchor="middle" >0</text>
<line x1="65.7" y1="328.5" x2="65.7" y2="330.9" stroke="#262626" stroke-width="0.9" />
<text x="65.7" y="339.9" font-size="8.3" text-anchor="middle" >1</text>
<line x1="104.4" y1="328.5" x2="104.4" y2="330.9" stroke="#262626" stroke-width="0.9" />
<text x="104.4" y="339.9" font-size="8.3" text-anchor="middle" >2</text>
<line x1="143.1" y1="328.5" x2="143.1" y2="330.9" stroke="#262626" stroke-width="0.9" />
<text x="143.1" y="339.9" font-size="8.3" text-anchor="middle" >3</text>
<line x1="181.4" y1="328.5" x2="181.4" y2="330.9" stroke="#262626" stroke-width="0.9" />
<text x="181.4" y="339.9" font-size="8.3" text-anchor="middle" >4</text>
<text x="0" y="0" font-size="9.1" text-anchor="middle" transform="translate(8.6 259.6) rotate(-90)">pH</text>
<text x="106" y="354" font-size="9.1" text-anchor="middle"><tspan font-style="italic">j</tspan> (A/cm<tspan font-size="0.68em" dy="-0.45em">2</tspan><tspan dy="0.45em">)</tspan></text>
<linearGradient id="cbg" x1="0" y1="0" x2="0" y2="1"><stop offset="0.0" stop-color="#eb4046"/><stop offset="0.05" stop-color="#ed4f54"/><stop offset="0.1" stop-color="#ee5d63"/><stop offset="0.15000000000000002" stop-color="#f06d71"/><stop offset="0.2" stop-color="#f17d81"/><stop offset="0.25" stop-color="#f38d91"/><stop offset="0.30000000000000004" stop-color="#f59fa2"/><stop offset="0.35000000000000003" stop-color="#f7b2b4"/><stop offset="0.4" stop-color="#f9c6c8"/><stop offset="0.45" stop-color="#fbddde"/><stop offset="0.5" stop-color="#ffffff"/><stop offset="0.55" stop-color="#dcf1f1"/><stop offset="0.6000000000000001" stop-color="#bbe4e3"/><stop offset="0.65" stop-color="#9bd7d6"/><stop offset="0.7000000000000001" stop-color="#7dcbc9"/><stop offset="0.75" stop-color="#61c0be"/><stop offset="0.8" stop-color="#47b6b3"/><stop offset="0.8500000000000001" stop-color="#2fada9"/><stop offset="0.9" stop-color="#1ba5a1"/><stop offset="0.9500000000000001" stop-color="#0a9e9a"/><stop offset="1.0" stop-color="#009a96"/></linearGradient>
<rect x="186.4" y="193.5" width="11.2" height="132.3" fill="url(#cbg)"/>
<rect x="186.4" y="193.5" width="11.2" height="132.3" fill="none" stroke="#333" stroke-width="0.6"/>
<line x1="197.6" y1="193.5" x2="197.6" y2="325.8" stroke="#262626" stroke-width="0.9" />
<line x1="197.6" y1="325.8" x2="199.8" y2="325.8" stroke="#262626" stroke-width="0.9" />
<text x="203.1" y="328.75" font-size="8.3" text-anchor="start" >0</text>
<line x1="197.6" y1="299.34" x2="199.8" y2="299.34" stroke="#262626" stroke-width="0.9" />
<text x="203.1" y="302.29" font-size="8.3" text-anchor="start" >10</text>
<line x1="197.6" y1="272.88" x2="199.8" y2="272.88" stroke="#262626" stroke-width="0.9" />
<text x="203.1" y="275.83" font-size="8.3" text-anchor="start" >20</text>
<line x1="197.6" y1="246.42" x2="199.8" y2="246.42" stroke="#262626" stroke-width="0.9" />
<text x="203.1" y="249.37" font-size="8.3" text-anchor="start" >30</text>
<line x1="197.6" y1="219.96" x2="199.8" y2="219.96" stroke="#262626" stroke-width="0.9" />
<text x="203.1" y="222.91" font-size="8.3" text-anchor="start" >40</text>
<line x1="197.6" y1="193.5" x2="199.8" y2="193.5" stroke="#262626" stroke-width="0.9" />
<text x="203.1" y="196.45" font-size="8.3" text-anchor="start" >50</text>
<text x="173.6" y="187.2" font-size="9.1" text-anchor="middle">CO<tspan font-size="0.68em" dy="0.3em">2</tspan><tspan dy="-0.3em"> carbonation (%)</tspan></text>
<g clip-path="url(#cpd)"><rect x="262" y="190" width="152" height="139" fill="#019b97"/>
<path d="M261.8 189.7 414.3 189.7 414.3 311.6 405.8 318.2 399.3 321.8 391.3 324.4 380.8 326.1 368.8 327 352.8 327.5 261.3 328.4 261.3 189.7Z" fill="#079d99" fill-rule="evenodd"/>
<path d="M261.8 189.7 414.3 189.7 414.3 307.6 401.8 315.4 393.3 319.7 383.8 322.8 372.8 324.9 360.8 326 344.8 326.7 261.3 327.8 261.3 189.7Z" fill="#0e9f9c" fill-rule="evenodd"/>
<path d="M261.8 189.7 414.3 189.7 414.3 304.8 398.8 313.4 388.3 318.4 378.7 321.7 368.3 323.8 356.3 325.1 340.3 325.8 261.3 327.1 261.3 189.7Z" fill="#16a39f" fill-rule="evenodd"/>
<path d="M261.8 189.7 414.3 189.7 414.3 302.5 395.8 312 383.8 317.6 374.8 320.7 364.8 322.9 352.8 324.2 336.3 325.1 261.3 326.4 261.3 189.7Z" fill="#20a7a3" fill-rule="evenodd"/>
<path d="M261.8 189.7 414.3 189.7 414.3 300.6 379.8 317 371.3 319.9 361.8 322 349.8 323.4 332.3 324.3 261.3 325.7 261.3 189.7Z" fill="#2aaba7" fill-rule="evenodd"/>
<path d="M261.8 189.7 414.3 189.7 414.3 298.9 376.8 316.2 368.3 319.1 359.3 321.1 346.8 322.6 328.8 323.6 296.8 324.6 261.3 325 261.3 189.7Z" fill="#35afac" fill-rule="evenodd"/>
<path d="M261.8 189.7 414.3 189.7 414.3 297.3 374.3 315.4 366.3 318.2 357.4 320.2 344.8 321.8 325.8 322.9 295.8 323.9 261.3 324.3 261.3 189.7Z" fill="#41b4b1" fill-rule="evenodd"/>
<path d="M261.8 189.7 413.6 189.7 414.3 191 414.3 295.8 372 314.7 364.3 317.3 355.8 319.3 342.3 321 322.3 322.2 294.3 323.2 261.3 323.6 261.3 189.7Z" fill="#4db8b6" fill-rule="evenodd"/>
<path d="M261.8 189.7 411.5 189.7 414.3 195 414.3 294.4 370.3 313.8 362.3 316.5 354.3 318.4 340.3 320.2 318.8 321.6 292.8 322.5 261.3 322.9 261.3 189.7Z" fill="#5abebb" fill-rule="evenodd"/>
<path d="M261.8 189.7 409.4 189.7 414.3 199.1 414.3 293.1 368.8 312.9 361.3 315.5 353.3 317.5 339.3 319.4 317.3 320.8 292.3 321.8 261.3 322.2 261.3 189.7Z" fill="#67c3c1" fill-rule="evenodd"/>
<path d="M261.8 189.7 407.3 189.7 414.3 203.4 414.3 291.7 406.3 295.5 385.9 303.7 366.9 312.2 359.3 314.8 351.8 316.6 337.3 318.6 314.8 320.1 291.3 321.1 261.3 321.5 261.3 189.7Z" fill="#76c9c6" fill-rule="evenodd"/>
<path d="M261.8 189.7 405.2 189.7 410.3 199.2 414.3 207.9 414.3 290.4 405.3 294.7 384.8 302.8 365.8 311.3 358.3 313.9 350.8 315.7 336.3 317.8 313.3 319.4 290.8 320.4 261.3 320.8 261.3 189.7Z" fill="#84cecc" fill-rule="evenodd"/>
<path d="M261.8 189.7 403 189.7 409.8 202.2 414.3 212.8 414.3 289.1 404.3 293.9 383.1 302.2 364.3 310.5 357.3 312.9 349.8 314.8 335.3 316.9 312 318.7 290.3 319.7 261.3 320.1 261.3 189.7Z" fill="#93d4d3" fill-rule="evenodd"/>
<path d="M261.8 189.7 400.9 189.7 409.2 205.2 414.3 218.7 414.3 287.7 403.8 293 381.2 301.7 363.3 309.6 356.3 312 348.8 313.9 333.8 316.1 310.8 318 289.8 318.9 261.3 319.4 261.3 189.7Z" fill="#a3dad9" fill-rule="evenodd"/>
<path d="M261.8 189.7 398.7 189.7 404.4 199.7 408.8 208.7 412 217.2 414.3 226.3 414.3 286.4 402.8 292.3 380.3 300.9 362.3 308.6 355 311.2 347.8 313 333.3 315.2 309.8 317.2 289.3 318.2 261.3 318.7 261.3 189.7Z" fill="#b2e1df" fill-rule="evenodd"/>
<path d="M261.8 189.7 396.4 189.7 403.2 201.2 408.1 211.7 411 220.2 414.3 234.1 414.3 285 407.3 289 399.3 292.6 379 300.2 359.3 308.5 347.3 312 332.3 314.4 309.3 316.4 288.8 317.5 261.3 317.9 261.3 189.7Z" fill="#c3e7e6" fill-rule="evenodd"/>
<path d="M261.8 189.7 394.1 189.7 401.3 201.6 406.3 212.2 409.1 220.2 414.3 240.2 414.3 283.6 407.3 287.8 398.8 291.7 377.3 299.7 358.1 307.7 346.3 311.1 331.3 313.5 308 315.7 288.3 316.7 261.3 317.2 261.3 189.7Z" fill="#d4eeed" fill-rule="evenodd"/>
<path d="M261.8 189.7 391.7 189.7 399.2 201.7 404.6 212.7 407.3 220.7 411.8 237.7 414.3 244.8 414.3 282.1 407.2 286.7 398.3 290.9 375.8 299.1 357.3 306.7 345.8 310.1 330.8 312.6 307.8 314.9 288.3 315.9 261.3 316.4 261.3 189.7Z" fill="#e5f5f4" fill-rule="evenodd"/>
<path d="M261.8 189.7 389.2 189.7 396.8 201.3 402.4 212.2 405.3 220.2 410.5 239.2 414.3 248.5 414.3 280.5 407.3 285.4 397.8 290 374.8 298.4 355.8 306 344.9 309.2 329.8 311.8 306.8 314.1 287.3 315.2 261.3 315.7 261.3 189.7Z" fill="#f6fbfb" fill-rule="evenodd"/>
<path d="M261.8 189.7 386.7 189.7 394.8 201.7 400.3 212.2 403.4 220.2 409.1 240.2 414.3 251.8 414.3 278.8 407.2 284.2 397.3 289.2 373.3 297.8 354.8 305.1 344.3 308.2 329.3 310.8 306.3 313.3 287.3 314.4 261.3 314.9 261.3 189.7Z" fill="#fef3f3" fill-rule="evenodd"/>
<path d="M261.8 189.7 383.9 189.7 392.3 201.4 398.2 212.2 401.4 220.2 407.5 240.7 414.3 255.2 414.3 276.8 411.4 279.7 407.5 282.7 397.3 288.1 371.8 297.2 354.3 304 344.3 307 328.8 309.9 306.3 312.4 287.3 313.6 261.3 314.1 261.3 189.7Z" fill="#fce4e4" fill-rule="evenodd"/>
<path d="M261.8 189.7 381.1 189.7 391.4 203.7 395.3 210.6 398.3 217.2 405.7 240.7 414.3 258.9 414.3 274.3 411.7 277.7 408.3 280.7 403.8 283.7 397.8 286.8 353.8 302.9 344.3 305.8 328.8 308.9 305.8 311.6 287.3 312.7 261.3 313.3 261.3 189.7Z" fill="#fbd7d8" fill-rule="evenodd"/>
<path d="M261.8 189.7 378 189.7 388.8 203.5 392.8 210.1 396 216.7 403.9 240.7 411.5 256.2 413.6 261.7 414.3 264.6 414.3 269.8 412.9 273.7 410.3 277.2 407 280.2 402.5 283.2 396.6 286.2 352.3 302.2 343.3 304.9 327.8 307.9 305.3 310.7 286.8 311.9 261.3 312.4 261.3 189.7Z" fill="#facbcd" fill-rule="evenodd"/>
<path d="M261.8 189.7 374.6 189.7 386.3 203.7 390.5 210.2 393.8 216.8 402 240.7 409.8 256.2 411.8 261.2 412.7 264.7 412.8 268.2 412.3 271.2 411.2 273.7 408.5 277.2 405 280.2 400.3 283.2 394.8 285.9 351.3 301.2 341.8 304 325.8 307.2 304.3 309.9 286.3 311.1 261.3 311.6 261.3 189.7Z" fill="#f8c1c3" fill-rule="evenodd"/>
<path d="M261.8 189.7 371.1 189.7 383.9 204.2 388.2 210.7 391.7 217.2 400.2 240.7 407.9 255.7 410.2 261.2 411 264.7 411.2 268.2 410.6 271.2 409.4 273.7 407.1 276.7 403.3 280 398.8 282.8 393.3 285.5 349.8 300.4 340.1 303.2 323.8 306.4 302.8 309 285.5 310.2 261.3 310.7 261.3 189.7Z" fill="#f7b6b9" fill-rule="evenodd"/>
<path d="M261.8 189.7 367.4 189.7 381.6 205.2 385.8 211.1 389.3 217.2 398.2 240.7 406.2 255.7 408.4 260.7 409.3 264.2 409.5 267.7 409 270.7 408 273.2 405.3 276.7 401.8 279.6 397.3 282.4 391.8 285 347.8 299.6 338.8 302.2 321.8 305.6 301.8 308.2 285.3 309.3 261.3 309.8 261.3 189.7Z" fill="#f6adaf" fill-rule="evenodd"/>
<path d="M261.8 189.7 363.4 189.7 379.3 206.4 383.3 211.7 386.9 217.7 396.2 240.7 404.3 255.3 406.7 260.7 407.6 264.2 407.8 267.7 407.3 270.7 406.2 273.2 403.9 276.2 400.3 279.2 395.8 282 390.3 284.5 337.3 301.2 320 304.7 301.3 307.2 284.8 308.4 261.3 308.9 261.3 189.7Z" fill="#f5a3a6" fill-rule="evenodd"/>
<path d="M261.8 189.7 359.4 189.7 377.3 208.2 381.3 213.3 384.7 218.7 394.1 240.7 402.5 255.2 404.8 260.2 405.8 263.7 406.1 267.2 405.7 270.2 404.4 273.2 402 276.2 398.3 279.2 393.8 281.8 388.3 284.2 334.3 300.6 317.3 303.9 299.8 306.3 283.8 307.4 261.3 307.9 261.3 189.7Z" fill="#f49a9e" fill-rule="evenodd"/>
<path d="M261.8 189.7 355.4 189.7 360.9 196.2 375.3 210.3 379.3 215.2 382.2 219.7 391.9 240.7 400.4 254.7 403.1 260.2 404.1 263.7 404.4 267.2 403.9 270.2 402.8 272.7 400.5 275.7 397.3 278.4 392.8 281 387.3 283.5 332.3 299.6 315.3 303 298.8 305.3 283.3 306.4 261.3 306.9 261.3 189.7Z" fill="#f49295" fill-rule="evenodd"/>
<path d="M261.8 189.7 351.4 189.7 358.1 198.2 373.8 213.4 379.8 221.4 389.6 240.7 398.3 254.3 401.1 259.7 402.2 263.2 402.6 266.7 402.3 269.7 401 272.7 398.5 275.7 395.3 278.2 390.9 280.7 385.8 282.9 358.8 290.2 329.8 298.7 312.8 302.2 297.8 304.3 282.8 305.3 261.3 305.9 261.3 189.7Z" fill="#f3898d" fill-rule="evenodd"/>
<path d="M261.8 189.7 347.5 189.7 350.5 194.7 354.3 199.5 370.8 215.2 374.3 219.2 377.7 224.2 387 240.7 396.2 254.2 399 259.2 400.3 262.7 400.8 266.2 400.5 269.2 399.3 272.2 396.9 275.2 393.7 277.7 389.3 280.2 384.3 282.2 356.3 289.3 325.3 298.2 310.6 301.2 295.8 303.3 281.8 304.2 261.3 304.8 261.3 189.7Z" fill="#f28185" fill-rule="evenodd"/>
<path d="M261.8 189.7 343.6 189.7 347.3 196.7 351.8 202.8 356.3 207.4 367.2 217.2 372.3 222.9 384.8 241.7 394.8 255.1 397.5 260.2 398.8 264.7 398.7 268.7 397.3 272.2 395.3 274.7 392.1 277.2 387.8 279.5 382.8 281.5 354.8 288.1 320.1 297.7 306.3 300.5 293.4 302.2 279.8 303.1 261.3 303.6 261.3 189.7Z" fill="#f1797d" fill-rule="evenodd"/>
<path d="M261.8 189.7 339.5 189.7 343.3 198.2 348.3 205.6 352.8 210.5 363.3 219.8 368.3 224.9 392.8 255.4 395.5 260.2 396.8 264.2 396.8 268.2 395.5 271.7 393.5 274.2 390.3 276.7 386.3 278.8 381.3 280.7 351.8 287 328.5 293.7 314.6 297.2 302.3 299.6 291.3 301 261.3 302.3 261.3 189.7Z" fill="#f07175" fill-rule="evenodd"/>
<path d="M261.8 189.7 335.3 189.7 337.4 196.2 339.8 201.7 342.7 206.7 346.1 211.2 351.3 216.6 366.8 230.7 385.8 249.9 390.8 255.9 393.4 260.2 394.8 264.7 394.7 268.2 393.3 271.7 391.1 274.2 388.3 276.2 380 279.7 372.3 281.5 349.8 285.4 310.7 296.2 300.3 298.2 289.3 299.6 261.3 300.8 261.3 189.7Z" fill="#ef696e" fill-rule="evenodd"/>
<path d="M261.8 189.7 330.7 189.7 332.4 197.2 334.5 203.7 337 209.2 340.6 214.7 345.7 220.7 352.2 226.7 379.3 247.3 386.8 254.1 390.2 258.7 392.3 263.2 392.6 267.2 391.2 271.2 389 273.7 386.3 275.6 378.8 278.6 371 280.2 347.3 283.6 317.6 292.2 305.7 295.2 296.3 297 286.8 298.1 261.3 299.2 261.3 189.7Z" fill="#ee6166" fill-rule="evenodd"/>
<path d="M261.8 189.7 325.3 189.7 326.7 200.7 328.7 209.2 331.6 216.2 335.8 222.6 342.5 229.7 350.2 235.7 355.4 238.7 373.8 247.3 379.3 250.7 383.3 253.9 387.2 258.2 389.6 262.7 390.2 266.7 388.9 270.7 387.1 272.7 384.8 274.4 377.8 277.2 369.8 278.7 352.8 280.1 344.3 281.5 313.2 290.7 300.3 293.9 284.3 296.2 261.3 297.2 261.3 189.7Z" fill="#ee5a5f" fill-rule="evenodd"/>
<path d="M261.8 189.7 317.9 189.7 317.8 205.2 319 214.7 321.9 222.7 326.6 229.7 334.8 237.4 339.5 240.7 344.3 243.3 351.8 245.9 368.8 249.3 374.3 251.4 379.3 254.1 383.8 258 386.6 262.2 387.5 266.2 387.1 268.2 386.1 270.2 382.3 273.5 376.3 275.7 368.3 276.9 350.3 277.2 341.3 278.4 332.3 280.8 306.6 289.2 294.8 292.1 280.8 293.9 261.3 294.7 261.3 189.7Z" fill="#ed5258" fill-rule="evenodd"/>
<path d="M261.8 189.7 290.5 189.7 292.3 190.7 294.7 193.2 296.3 196.7 300.3 216.7 303.1 225.7 307.2 233.2 312.6 239.2 317.8 243 324.3 246.7 332.3 250.4 339.3 252.9 348.3 254.1 360.3 253.1 365.3 253.2 370.3 253.9 374.8 255.4 379.5 258.2 382.8 261.8 384.1 265.7 383.1 269.2 381.1 271.2 378.3 272.7 370.8 274.4 362.8 274.4 347.3 272.6 338.8 273.2 329.8 275.5 303.1 285.2 292.9 288.2 280.3 290.2 261.3 291.1 261.3 220.7 264.1 212.2 265.3 201.2 264.6 194.2 263.3 191.7 261.3 190.3 261.3 189.7Z" fill="#ec4b51" fill-rule="evenodd"/>
<path d="M366.8 258.7 372.3 259.3 376.9 261.7 378.3 263.3 379 265.2 378.9 266.7 378.1 268.2 376.3 269.6 374.3 270.4 368.8 271.1 363.2 270.2 358.8 267.9 357.1 265.2 357.2 263.7 358.1 262.2 361.8 259.8Z" fill="#eb4449" fill-rule="evenodd"/>
<path d="M325.3 189.7 326.9 201.7 328 206.7 329.2 210.7 330.6 214.2 332.5 217.7 334.8 221.2 337.6 224.7 340.8 228.1 344.2 231.2 347.8 234.1 351.3 236.4 356.4 239.2 371.8 246.3 376.3 248.8 380.3 251.4 383.8 254.3 386.8 257.6 388.8 260.7 389.9 263.7M387.1 272.7 385.1 274.2 382.8 275.5 379.8 276.6 376.8 277.4 369.7 278.7 352.8 280.1 344.3 281.5 336.3 283.5 311.5 291.2 299.1 294.2 291.8 295.4 283.8 296.3 274.8 296.8 261.3 297.2" fill="none" stroke="#111" stroke-width="1.25" stroke-dasharray="2.8 1.7"/>
<path d="M386.7 189.7 392.9 198.7 397.9 207.2M401.8 215.7 403.8 221.7 407.2 234.2 408.9 239.7 411 245.2 414.3 251.8M414.3 278.8 411.5 281.2 408.8 283.2 401.6 287.2 393.3 290.7 379.3 295.6M369.8 299.1 357.3 304.2 350.3 306.6 341.8 308.8 331.8 310.5 315.3 312.5 298.8 313.8 283.3 314.5 261.3 314.9" fill="none" stroke="#111" stroke-width="1.25" stroke-dasharray="2.8 1.7"/>
</g>
<text x="389" y="271.2" font-size="7.8" text-anchor="middle" >90</text>
<text x="374.5" y="299.7" font-size="7.8" text-anchor="middle" >50</text>
<text x="400.5" y="214" font-size="7.8" text-anchor="middle" >50</text>
<text x="302" y="299" font-size="7.8" text-anchor="start">CO<tspan font-size="0.68em" dy="0.3em">2</tspan><tspan dy="-0.3em">RR dominant</tspan></text>
<text x="357.7" y="314.5" font-size="7.8" text-anchor="start" >HER dominant</text>
<rect x="262.3" y="190.7" width="151.1" height="137.8" fill="none" stroke="#262626" stroke-width="1.0"/>
<line x1="259.9" y1="328.3" x2="262.3" y2="328.3" stroke="#262626" stroke-width="0.9" />
<text x="258" y="331.25" font-size="8.3" text-anchor="end" >0</text>
<line x1="259.9" y1="301.4" x2="262.3" y2="301.4" stroke="#262626" stroke-width="0.9" />
<text x="258" y="304.35" font-size="8.3" text-anchor="end" >0.5</text>
<line x1="259.9" y1="273.7" x2="262.3" y2="273.7" stroke="#262626" stroke-width="0.9" />
<text x="258" y="276.65" font-size="8.3" text-anchor="end" >1.0</text>
<line x1="259.9" y1="245.9" x2="262.3" y2="245.9" stroke="#262626" stroke-width="0.9" />
<text x="258" y="248.85" font-size="8.3" text-anchor="end" >2.0</text>
<line x1="259.9" y1="218.2" x2="262.3" y2="218.2" stroke="#262626" stroke-width="0.9" />
<text x="258" y="221.15" font-size="8.3" text-anchor="end" >3.0</text>
<line x1="259.9" y1="190.9" x2="262.3" y2="190.9" stroke="#262626" stroke-width="0.9" />
<text x="258" y="193.85" font-size="8.3" text-anchor="end" >4.0</text>
<line x1="262.4" y1="328.5" x2="262.4" y2="330.9" stroke="#262626" stroke-width="0.9" />
<text x="262.4" y="339.9" font-size="8.3" text-anchor="middle" >30</text>
<line x1="292.6" y1="328.5" x2="292.6" y2="330.9" stroke="#262626" stroke-width="0.9" />
<text x="292.6" y="339.9" font-size="8.3" text-anchor="middle" >25</text>
<line x1="322.8" y1="328.5" x2="322.8" y2="330.9" stroke="#262626" stroke-width="0.9" />
<text x="322.8" y="339.9" font-size="8.3" text-anchor="middle" >20</text>
<line x1="353" y1="328.5" x2="353" y2="330.9" stroke="#262626" stroke-width="0.9" />
<text x="353" y="339.9" font-size="8.3" text-anchor="middle" >15</text>
<line x1="383.2" y1="328.5" x2="383.2" y2="330.9" stroke="#262626" stroke-width="0.9" />
<text x="383.2" y="339.9" font-size="8.3" text-anchor="middle" >10</text>
<line x1="413.4" y1="328.5" x2="413.4" y2="330.9" stroke="#262626" stroke-width="0.9" />
<text x="413.4" y="339.9" font-size="8.3" text-anchor="middle" >5</text>
<text x="0" y="0" font-size="9.1" text-anchor="middle" transform="translate(241 259.6) rotate(-90)">pH</text>
<text x="338" y="354.5" font-size="9.1" text-anchor="middle">CO<tspan font-size="0.68em" dy="0.3em">2</tspan><tspan dy="-0.3em"> flow rate (sccm)</tspan></text>
<rect x="418.2" y="193.5" width="10.4" height="132.3" fill="#019b97"/>
<rect x="418.2" y="193.5" width="10.4" height="128.99" fill="#079d99"/>
<rect x="418.2" y="193.5" width="10.4" height="125.69" fill="#0e9f9c"/>
<rect x="418.2" y="193.5" width="10.4" height="122.38" fill="#16a39f"/>
<rect x="418.2" y="193.5" width="10.4" height="119.07" fill="#20a7a3"/>
<rect x="418.2" y="193.5" width="10.4" height="115.76" fill="#2aaba7"/>
<rect x="418.2" y="193.5" width="10.4" height="112.45" fill="#35afac"/>
<rect x="418.2" y="193.5" width="10.4" height="109.15" fill="#41b4b1"/>
<rect x="418.2" y="193.5" width="10.4" height="105.84" fill="#4db8b6"/>
<rect x="418.2" y="193.5" width="10.4" height="102.53" fill="#5abebb"/>
<rect x="418.2" y="193.5" width="10.4" height="99.23" fill="#67c3c1"/>
<rect x="418.2" y="193.5" width="10.4" height="95.92" fill="#76c9c6"/>
<rect x="418.2" y="193.5" width="10.4" height="92.61" fill="#84cecc"/>
<rect x="418.2" y="193.5" width="10.4" height="89.3" fill="#93d4d3"/>
<rect x="418.2" y="193.5" width="10.4" height="86" fill="#a3dad9"/>
<rect x="418.2" y="193.5" width="10.4" height="82.69" fill="#b2e1df"/>
<rect x="418.2" y="193.5" width="10.4" height="79.38" fill="#c3e7e6"/>
<rect x="418.2" y="193.5" width="10.4" height="76.07" fill="#d4eeed"/>
<rect x="418.2" y="193.5" width="10.4" height="72.76" fill="#e5f5f4"/>
<rect x="418.2" y="193.5" width="10.4" height="69.46" fill="#f6fbfb"/>
<rect x="418.2" y="193.5" width="10.4" height="66.15" fill="#fef3f3"/>
<rect x="418.2" y="193.5" width="10.4" height="62.84" fill="#fce4e4"/>
<rect x="418.2" y="193.5" width="10.4" height="59.53" fill="#fbd7d8"/>
<rect x="418.2" y="193.5" width="10.4" height="56.23" fill="#facbcd"/>
<rect x="418.2" y="193.5" width="10.4" height="52.92" fill="#f8c1c3"/>
<rect x="418.2" y="193.5" width="10.4" height="49.61" fill="#f7b6b9"/>
<rect x="418.2" y="193.5" width="10.4" height="46.31" fill="#f6adaf"/>
<rect x="418.2" y="193.5" width="10.4" height="43" fill="#f5a3a6"/>
<rect x="418.2" y="193.5" width="10.4" height="39.69" fill="#f49a9e"/>
<rect x="418.2" y="193.5" width="10.4" height="36.38" fill="#f49295"/>
<rect x="418.2" y="193.5" width="10.4" height="33.07" fill="#f3898d"/>
<rect x="418.2" y="193.5" width="10.4" height="29.77" fill="#f28185"/>
<rect x="418.2" y="193.5" width="10.4" height="26.46" fill="#f1797d"/>
<rect x="418.2" y="193.5" width="10.4" height="23.15" fill="#f07175"/>
<rect x="418.2" y="193.5" width="10.4" height="19.84" fill="#ef696e"/>
<rect x="418.2" y="193.5" width="10.4" height="16.54" fill="#ee6166"/>
<rect x="418.2" y="193.5" width="10.4" height="13.23" fill="#ee5a5f"/>
<rect x="418.2" y="193.5" width="10.4" height="9.92" fill="#ed5258"/>
<rect x="418.2" y="193.5" width="10.4" height="6.62" fill="#ec4b51"/>
<rect x="418.2" y="193.5" width="10.4" height="3.31" fill="#eb4449"/>
<rect x="418.2" y="193.5" width="10.4" height="132.3" fill="none" stroke="#333" stroke-width="0.6"/>
<line x1="428.6" y1="193.5" x2="428.6" y2="325.8" stroke="#262626" stroke-width="0.9" />
<line x1="428.6" y1="325.8" x2="430.8" y2="325.8" stroke="#262626" stroke-width="0.9" />
<text x="434.1" y="328.75" font-size="8.3" text-anchor="start" >0</text>
<line x1="428.6" y1="299.34" x2="430.8" y2="299.34" stroke="#262626" stroke-width="0.9" />
<text x="434.1" y="302.29" font-size="8.3" text-anchor="start" >20</text>
<line x1="428.6" y1="272.88" x2="430.8" y2="272.88" stroke="#262626" stroke-width="0.9" />
<text x="434.1" y="275.83" font-size="8.3" text-anchor="start" >40</text>
<line x1="428.6" y1="246.42" x2="430.8" y2="246.42" stroke="#262626" stroke-width="0.9" />
<text x="434.1" y="249.37" font-size="8.3" text-anchor="start" >60</text>
<line x1="428.6" y1="219.96" x2="430.8" y2="219.96" stroke="#262626" stroke-width="0.9" />
<text x="434.1" y="222.91" font-size="8.3" text-anchor="start" >80</text>
<line x1="428.6" y1="193.5" x2="430.8" y2="193.5" stroke="#262626" stroke-width="0.9" />
<text x="434.1" y="196.45" font-size="8.3" text-anchor="start" >100</text>
<text x="429.5" y="188.3" font-size="9.1" text-anchor="middle">CO FE (%)</text>
<g clip-path="url(#cpf)"><rect x="496" y="190" width="152" height="139" fill="#019b97"/>
<path d="M496.1 189.3 648.6 189.3 648.6 312.2 634.1 319.7 628.6 321.9 621.1 323.8 611.1 325.2 580.6 326.3 495.6 326.2 495.6 189.3Z" fill="#079d99" fill-rule="evenodd"/>
<path d="M496.1 189.3 648.6 189.3 648.6 309.1 620.6 319.5 611.1 321.7 600.1 323.1 587.1 323.9 571.1 324.2 495.6 323.3 495.6 189.3Z" fill="#0e9f9c" fill-rule="evenodd"/>
<path d="M496.1 189.3 648.6 189.3 648.6 306.8 639.6 309.3 613.6 317.8 603.6 319.9 593.1 321.2 580.6 321.9 563.6 321.9 525.1 321.5 495.6 320.4 495.6 189.3Z" fill="#16a39f" fill-rule="evenodd"/>
<path d="M496.1 189.3 648.6 189.3 648.6 304.9 634.7 308.3 608.1 316.1 598.6 318 588.6 319.2 572.1 319.7 539.6 319.3 518.1 318.6 495.6 317.3 495.6 189.3Z" fill="#20a7a3" fill-rule="evenodd"/>
<path d="M496.1 189.3 648.6 189.3 648.6 303.3 632 306.8 603.1 314.5 594.6 316.1 585.6 317 569.6 317.4 535.1 316.7 515.6 315.7 495.6 314.1 495.6 189.3Z" fill="#2aaba7" fill-rule="evenodd"/>
<path d="M496.1 189.3 648.6 189.3 648.6 302 630 305.3 599.1 312.8 583.1 314.8 567.1 315.1 532.6 313.9 514.1 312.7 495.6 310.7 495.6 189.3Z" fill="#35afac" fill-rule="evenodd"/>
<path d="M496.1 189.3 648.6 189.3 648.6 300.7 628.1 303.9 595.6 311 580.1 312.6 564.6 312.6 530.1 310.9 512.7 309.3 495.6 306.8 495.6 189.3Z" fill="#41b4b1" fill-rule="evenodd"/>
<path d="M496.1 189.3 648.6 189.3 648.6 299.6 625.1 302.7 593.1 309 577.6 310.2 561.1 309.8 528.1 307.6 510.6 305.3 495.6 302.2 495.6 189.3Z" fill="#4db8b6" fill-rule="evenodd"/>
<path d="M496.1 189.3 648.6 189.3 648.6 298.5 624.2 301.3 590.6 306.9 582.6 307.6 573.6 307.7 544.7 305.8 524.1 303.5 508.1 300.2 501.1 298 495.6 295.6 495.6 189.3Z" fill="#5abebb" fill-rule="evenodd"/>
<path d="M502.1 189.3 648.6 189.3 648.6 297.5 624.4 299.8 590.1 304.5 581.6 305 572.6 304.9 546.6 302.5 528.2 299.8 515.5 296.3 509.9 293.8 505.9 291.3 502.7 288.3 500.7 285.3 499.5 281.8 499 277.8 499 218.3 500.2 201.3 501.7 189.3Z" fill="#67c3c1" fill-rule="evenodd"/>
<path d="M518.6 189.3 648.6 189.3 648.6 296.5 625.9 298.3 590.6 302 574.6 302.1 558 300.3 538.4 296.8 527.6 293.4 520.4 289.3 517.5 286.3 515.7 283.3 514.7 279.8 514.3 274.8 514 219.3 515.5 205.3Z" fill="#76c9c6" fill-rule="evenodd"/>
<path d="M532.1 189.3 648.6 189.3 648.6 295.6 594.1 299.3 577.1 299.2 563.5 297.3 548.8 293.8 539.7 290.3 533.7 286.3 531.2 283.3 529.4 279.3 528.5 274.3 528.1 266.3 528.4 218.3 529.5 207.3Z" fill="#84cecc" fill-rule="evenodd"/>
<path d="M544.6 189.3 646.5 189.3 648.6 190.2 648.6 294.7 600.6 296.9 589.6 297 581.1 296.4 570.6 294.7 560.1 291.6 551.6 287.8 546.2 283.8 543.5 280.3 541.8 276.3 540.7 271.3 540.3 264.8 541.6 240.3 542.3 214.3Z" fill="#93d4d3" fill-rule="evenodd"/>
<path d="M560.6 189.3 640.2 189.3 648.6 192.8 648.6 293.8 607.1 295.1 595.6 294.8 586.1 293.9 576.6 292 568.1 289.1 561.1 285.3 556 280.8 553.4 276.8 551.7 271.8 550.9 266.3 550.8 259.3 556.2 211.3 558.4 198.3Z" fill="#a3dad9" fill-rule="evenodd"/>
<path d="M586.1 189.5 633.3 189.3 648.6 195.4 648.6 293 610.6 293.5 599.1 292.9 589.6 291.6 580.8 289.3 573.1 285.9 567.5 281.8 563.4 276.8 561.5 272.8 560.4 268.8 559.8 259.3 561.5 245.8 565.7 225.8 569.8 212.8 574.2 203.3 579.4 195.8Z" fill="#b2e1df" fill-rule="evenodd"/>
<path d="M600.6 189.8 601.6 189.3 624.2 189.3 648.6 198.1 648.6 292.1 613.6 292.1 602.6 291.3 593.5 289.8 585.5 287.3 578.7 283.8 573.5 279.3 569.9 273.8 568.4 269.8 567.6 265.8 567.6 255.8 570.4 241.3 574.9 226.3 580.5 213.3 586.7 202.8 593.5 194.8 597.1 191.9Z" fill="#c3e7e6" fill-rule="evenodd"/>
<path d="M613.1 192.3 618.1 192.2 624.1 193.3 648.6 200.8 648.6 291.3 615.6 290.9 605.1 289.8 596.6 288.1 589.1 285.4 583.1 281.8 578.2 276.8 575.3 271.3 574.1 266.8 573.7 261.8 574 256.3 574.9 250.3 579.7 233.8 586.7 216.8 592.6 206.4 598.6 199.2 602.1 196.4 605.6 194.4 609.1 193Z" fill="#d4eeed" fill-rule="evenodd"/>
<path d="M614.1 197.3 619.1 196.9 625.1 197.5 648.6 203.7 648.6 290.5 618.1 289.7 608.1 288.6 600.1 286.9 593.3 284.3 587.7 280.8 583.4 276.3 580.7 271.3 579.6 267.3 579.1 262.8 579.2 257.8 580.1 252.3 584.3 238.3 591.5 220.3 596.3 211.3 601.6 204.4 607.6 199.7Z" fill="#e5f5f4" fill-rule="evenodd"/>
<path d="M617.6 201.7 622.6 201.4 628.1 202 648.6 206.6 648.6 289.7 620.1 288.6 611.1 287.5 603.4 285.8 596.9 283.3 591.4 279.8 587.7 275.8 585.1 270.8 584 266.8 583.7 262.8 584.8 253.3 589 240.3 596.8 221.3 601.3 213.3 606.1 207.6 611.6 203.7Z" fill="#f6fbfb" fill-rule="evenodd"/>
<path d="M620.1 206.3 624.6 206 630.1 206.3 648.6 209.8 648.6 288.8 621.6 287.6 613.1 286.4 606.1 284.7 599.6 282.1 594.7 278.8 591.1 274.8 588.9 270.3 588 266.8 587.7 262.8 589 253.8 592.3 244.3 601.2 223.8 605.1 216.8 609.6 211.6 614.6 208.1Z" fill="#fef3f3" fill-rule="evenodd"/>
<path d="M624.6 210.7 633.1 210.9 648.6 213.3 648.6 288 623.6 286.6 615.6 285.4 608.6 283.7 602.8 281.3 598.1 278.2 594.5 274.3 592.3 269.8 591.5 266.3 591.4 262.3 592.9 253.8 595.9 246.3 606.4 224.8 610.2 218.8 614.1 214.8 619.1 212Z" fill="#fce4e4" fill-rule="evenodd"/>
<path d="M627.6 215.8 635.6 215.8 648.6 217.4 648.6 287.2 625.1 285.6 617.1 284.3 610.6 282.6 605.1 280.2 600.6 277.1 597.3 273.3 595.5 269.3 594.8 265.8 594.8 262.3 596.5 254.3 599.6 247.4 609.6 229.7 613.6 223.7 617.6 219.6 622.1 217.1Z" fill="#fbd7d8" fill-rule="evenodd"/>
<path d="M631.1 221.7 637.6 221.5 648.6 222.4 648.6 286.4 626.1 284.5 618.6 283.2 612.6 281.5 607.6 279.3 603.3 276.3 600.3 272.8 598.6 268.8 598 262.8 599.3 256.3 602.1 250.2 607.6 241.7 614.6 232.1 619.6 226.7 625.1 223.3Z" fill="#facbcd" fill-rule="evenodd"/>
<path d="M636.6 228.3 648.6 228.1 648.6 285.5 627.1 283.5 620.1 282.1 614.1 280.3 609.1 277.9 605.6 275.2 602.9 271.8 601.4 267.8 601.2 261.8 602.9 255.8 606.6 249.4 612.6 242 618.6 236 624.1 232 630.1 229.4Z" fill="#f8c1c3" fill-rule="evenodd"/>
<path d="M643.6 233.8 648.6 233.5 648.6 284.7 633.6 283.2 622.6 281.3 614.9 278.8 609.1 275.3 606.7 272.8 605.3 270.3 604.3 267.3 604.1 263.8 604.7 260.3 605.9 256.8 610.1 250.2 617.6 243 625.1 238.2 633.6 235.1Z" fill="#f7b6b9" fill-rule="evenodd"/>
<path d="M644.6 238.3 648.6 237.8 648.6 283.8 634.6 282.3 624.2 280.3 616.9 277.8 611.4 274.3 609.6 272.3 608.1 269.8 607.3 266.8 607.2 263.8 608.9 257.8 613.1 251.6 619.1 246.5 626.6 242.5 634.6 239.9Z" fill="#f6adaf" fill-rule="evenodd"/>
<path d="M648.6 241.3 648.6 282.9 635.1 281.2 625.1 279.1 617.9 276.3 613.2 272.8 610.7 268.3 610.3 265.8 610.5 262.8 612.6 257.3 617.1 252.1 622.6 248.2 629.6 245.2 637.6 243Z" fill="#f5a3a6" fill-rule="evenodd"/>
<path d="M647.6 244.3 648.6 244.1 648.6 282 636.5 280.3 627.6 278.3 621 275.8 616.2 272.3 613.9 268.3 613.5 263.8 615.4 258.8 619.1 254.4 624.1 250.9 630.1 248.2 637.6 246.1Z" fill="#f49a9e" fill-rule="evenodd"/>
<path d="M647.6 246.7 648.6 246.6 648.6 281 637.5 279.3 629.1 277.2 622.6 274.4 618.8 271.3 617 267.8 616.9 263.8 618.6 259.7 622.1 255.8 626.5 252.8 632.1 250.4 638.6 248.5Z" fill="#f49295" fill-rule="evenodd"/>
<path d="M648.6 248.7 648.6 280 638.8 278.3 631.4 276.3 625.7 273.8 622.1 270.8 620.5 267.8 620.4 264.3 621.8 260.8 625 257.3 629.1 254.6 634.1 252.4 640.6 250.4Z" fill="#f3898d" fill-rule="evenodd"/>
<path d="M648.6 250.8 648.6 279 640.2 277.3 633.5 275.3 629.2 273.3 626 270.8 624.4 268.3 624 265.3 625 262.3 627.6 259.2 631.1 256.6 635.6 254.5Z" fill="#f28185" fill-rule="evenodd"/>
<path d="M647.1 253.2 648.6 252.8 648.6 277.8 639.6 275.6 633.1 273 629.3 269.8 628 266.3 628.3 264.3 629.4 262.3 633.1 258.8 638.9 255.8Z" fill="#f1797d" fill-rule="evenodd"/>
<path d="M647.6 255.2 648.6 254.9 648.6 276.6 641.6 274.6 636.6 272.3 633.6 269.8 632.3 266.8 633.3 263.3 636.3 260.3 641.1 257.6Z" fill="#f07175" fill-rule="evenodd"/>
<path d="M648.6 257.1 648.6 275.1 643.4 273.3 639.8 271.3 637.8 269.3 636.8 266.8 637.5 264.3 639.6 261.8 643.5 259.3Z" fill="#ef696e" fill-rule="evenodd"/>
<path d="M648.6 259.7 648.6 273.4 643.3 270.3 642.1 268.8 641.6 266.8 642.1 264.8 643.2 263.3Z" fill="#ee6166" fill-rule="evenodd"/>
<path d="M648.6 263.1 648.6 270.7 646.9 268.8 646.4 266.8 647.1 264.8Z" fill="#ee5a5f" fill-rule="evenodd"/>
<path d="M648.6 288.8 633.1 288.3 622.6 287.7 614.1 286.6 607.1 285M600.6 282.6 597.4 280.8 594.7 278.8 592.2 276.3 590.5 273.8 589 270.8 588.2 267.8 587.8 264.3 587.8 260.8 588.8 254.3 591.3 246.8 600 226.3 602.5 221.3 604.8 217.3 608.1 213 611.7 209.8 615.6 207.6 620.1 206.3 624.6 206 630.1 206.3 636.1 207.3 648.6 209.8" fill="none" stroke="#111" stroke-width="1.25" stroke-dasharray="2.8 1.7"/>
<path d="M648.6 275.1 644.6 273.8 641.1 272.1M638.1 263.3 639.6 261.8 642.1 260.1 645.1 258.5 648.6 257.1" fill="none" stroke="#111" stroke-width="1.25" stroke-dasharray="2.8 1.7"/>
</g>
<text x="601.6" y="289.9" font-size="7.8" text-anchor="middle" >50</text>
<text x="638.8" y="270.6" font-size="7.8" text-anchor="middle" >85</text>
<text x="537.3" y="298.4" font-size="7.8" text-anchor="start" >theoretical limit in neutral media</text>
<rect x="496.6" y="190.3" width="151.1" height="138.2" fill="none" stroke="#262626" stroke-width="1.0"/>
<line x1="494.2" y1="328.3" x2="496.6" y2="328.3" stroke="#262626" stroke-width="0.9" />
<text x="492.3" y="331.25" font-size="8.3" text-anchor="end" >0</text>
<line x1="494.2" y1="300.3" x2="496.6" y2="300.3" stroke="#262626" stroke-width="0.9" />
<text x="492.3" y="303.25" font-size="8.3" text-anchor="end" >0.5</text>
<line x1="494.2" y1="273.7" x2="496.6" y2="273.7" stroke="#262626" stroke-width="0.9" />
<text x="492.3" y="276.65" font-size="8.3" text-anchor="end" >1.0</text>
<line x1="494.2" y1="245.3" x2="496.6" y2="245.3" stroke="#262626" stroke-width="0.9" />
<text x="492.3" y="248.25" font-size="8.3" text-anchor="end" >2.0</text>
<line x1="494.2" y1="217.6" x2="496.6" y2="217.6" stroke="#262626" stroke-width="0.9" />
<text x="492.3" y="220.55" font-size="8.3" text-anchor="end" >3.0</text>
<line x1="494.2" y1="190.3" x2="496.6" y2="190.3" stroke="#262626" stroke-width="0.9" />
<text x="492.3" y="193.25" font-size="8.3" text-anchor="end" >4.0</text>
<line x1="496.6" y1="328.5" x2="496.6" y2="330.9" stroke="#262626" stroke-width="0.9" />
<text x="496.6" y="339.9" font-size="8.3" text-anchor="middle" >30</text>
<line x1="526.8" y1="328.5" x2="526.8" y2="330.9" stroke="#262626" stroke-width="0.9" />
<text x="526.8" y="339.9" font-size="8.3" text-anchor="middle" >25</text>
<line x1="557" y1="328.5" x2="557" y2="330.9" stroke="#262626" stroke-width="0.9" />
<text x="557" y="339.9" font-size="8.3" text-anchor="middle" >20</text>
<line x1="587.2" y1="328.5" x2="587.2" y2="330.9" stroke="#262626" stroke-width="0.9" />
<text x="587.2" y="339.9" font-size="8.3" text-anchor="middle" >15</text>
<line x1="617.4" y1="328.5" x2="617.4" y2="330.9" stroke="#262626" stroke-width="0.9" />
<text x="617.4" y="339.9" font-size="8.3" text-anchor="middle" >10</text>
<line x1="647.6" y1="328.5" x2="647.6" y2="330.9" stroke="#262626" stroke-width="0.9" />
<text x="647.6" y="339.9" font-size="8.3" text-anchor="middle" >5</text>
<text x="0" y="0" font-size="9.1" text-anchor="middle" transform="translate(475 259.6) rotate(-90)">pH</text>
<text x="572" y="354.5" font-size="9.1" text-anchor="middle">CO<tspan font-size="0.68em" dy="0.3em">2</tspan><tspan dy="-0.3em"> flow rate (sccm)</tspan></text>
<rect x="653.1" y="193.3" width="12.1" height="132.2" fill="#019b97"/>
<rect x="653.1" y="193.3" width="12.1" height="128.89" fill="#079d99"/>
<rect x="653.1" y="193.3" width="12.1" height="125.59" fill="#0e9f9c"/>
<rect x="653.1" y="193.3" width="12.1" height="122.28" fill="#16a39f"/>
<rect x="653.1" y="193.3" width="12.1" height="118.98" fill="#20a7a3"/>
<rect x="653.1" y="193.3" width="12.1" height="115.68" fill="#2aaba7"/>
<rect x="653.1" y="193.3" width="12.1" height="112.37" fill="#35afac"/>
<rect x="653.1" y="193.3" width="12.1" height="109.06" fill="#41b4b1"/>
<rect x="653.1" y="193.3" width="12.1" height="105.76" fill="#4db8b6"/>
<rect x="653.1" y="193.3" width="12.1" height="102.45" fill="#5abebb"/>
<rect x="653.1" y="193.3" width="12.1" height="99.15" fill="#67c3c1"/>
<rect x="653.1" y="193.3" width="12.1" height="95.84" fill="#76c9c6"/>
<rect x="653.1" y="193.3" width="12.1" height="92.54" fill="#84cecc"/>
<rect x="653.1" y="193.3" width="12.1" height="89.24" fill="#93d4d3"/>
<rect x="653.1" y="193.3" width="12.1" height="85.93" fill="#a3dad9"/>
<rect x="653.1" y="193.3" width="12.1" height="82.62" fill="#b2e1df"/>
<rect x="653.1" y="193.3" width="12.1" height="79.32" fill="#c3e7e6"/>
<rect x="653.1" y="193.3" width="12.1" height="76.01" fill="#d4eeed"/>
<rect x="653.1" y="193.3" width="12.1" height="72.71" fill="#e5f5f4"/>
<rect x="653.1" y="193.3" width="12.1" height="69.4" fill="#f6fbfb"/>
<rect x="653.1" y="193.3" width="12.1" height="66.1" fill="#fef3f3"/>
<rect x="653.1" y="193.3" width="12.1" height="62.8" fill="#fce4e4"/>
<rect x="653.1" y="193.3" width="12.1" height="59.49" fill="#fbd7d8"/>
<rect x="653.1" y="193.3" width="12.1" height="56.19" fill="#facbcd"/>
<rect x="653.1" y="193.3" width="12.1" height="52.88" fill="#f8c1c3"/>
<rect x="653.1" y="193.3" width="12.1" height="49.57" fill="#f7b6b9"/>
<rect x="653.1" y="193.3" width="12.1" height="46.27" fill="#f6adaf"/>
<rect x="653.1" y="193.3" width="12.1" height="42.96" fill="#f5a3a6"/>
<rect x="653.1" y="193.3" width="12.1" height="39.66" fill="#f49a9e"/>
<rect x="653.1" y="193.3" width="12.1" height="36.36" fill="#f49295"/>
<rect x="653.1" y="193.3" width="12.1" height="33.05" fill="#f3898d"/>
<rect x="653.1" y="193.3" width="12.1" height="29.75" fill="#f28185"/>
<rect x="653.1" y="193.3" width="12.1" height="26.44" fill="#f1797d"/>
<rect x="653.1" y="193.3" width="12.1" height="23.13" fill="#f07175"/>
<rect x="653.1" y="193.3" width="12.1" height="19.83" fill="#ef696e"/>
<rect x="653.1" y="193.3" width="12.1" height="16.53" fill="#ee6166"/>
<rect x="653.1" y="193.3" width="12.1" height="13.22" fill="#ee5a5f"/>
<rect x="653.1" y="193.3" width="12.1" height="9.91" fill="#ed5258"/>
<rect x="653.1" y="193.3" width="12.1" height="6.61" fill="#ec4b51"/>
<rect x="653.1" y="193.3" width="12.1" height="3.31" fill="#eb4449"/>
<rect x="653.1" y="193.3" width="12.1" height="132.2" fill="none" stroke="#333" stroke-width="0.6"/>
<line x1="665.2" y1="193.3" x2="665.2" y2="325.5" stroke="#262626" stroke-width="0.9" />
<line x1="665.2" y1="325.5" x2="667.4" y2="325.5" stroke="#262626" stroke-width="0.9" />
<text x="670.7" y="328.45" font-size="8.3" text-anchor="start" >0</text>
<line x1="665.2" y1="299.06" x2="667.4" y2="299.06" stroke="#262626" stroke-width="0.9" />
<text x="670.7" y="302.01" font-size="8.3" text-anchor="start" >20</text>
<line x1="665.2" y1="272.62" x2="667.4" y2="272.62" stroke="#262626" stroke-width="0.9" />
<text x="670.7" y="275.57" font-size="8.3" text-anchor="start" >40</text>
<line x1="665.2" y1="246.18" x2="667.4" y2="246.18" stroke="#262626" stroke-width="0.9" />
<text x="670.7" y="249.13" font-size="8.3" text-anchor="start" >60</text>
<line x1="665.2" y1="219.74" x2="667.4" y2="219.74" stroke="#262626" stroke-width="0.9" />
<text x="670.7" y="222.69" font-size="8.3" text-anchor="start" >80</text>
<line x1="665.2" y1="193.3" x2="667.4" y2="193.3" stroke="#262626" stroke-width="0.9" />
<text x="670.7" y="196.25" font-size="8.3" text-anchor="start" >100</text>
<text x="654" y="186" font-size="9.1" text-anchor="middle">CO<tspan font-size="0.68em" dy="0.3em">2</tspan><tspan dy="-0.3em"> SPCE (%)</tspan></text>
<text x="-1" y="8" font-size="15" text-anchor="start">a</text>
<text x="-1.2" y="190.4" font-size="14.5" text-anchor="start">b</text>
<text x="229" y="8" font-size="15" text-anchor="start">c</text>
<text x="228.3" y="190.6" font-size="14.5" text-anchor="start">d</text>
<text x="460.6" y="9.1" font-size="14.6" text-anchor="start">e</text>
<text x="464.4" y="190.9" font-size="14.5" text-anchor="start">f</text>
</svg>
</body></html>
